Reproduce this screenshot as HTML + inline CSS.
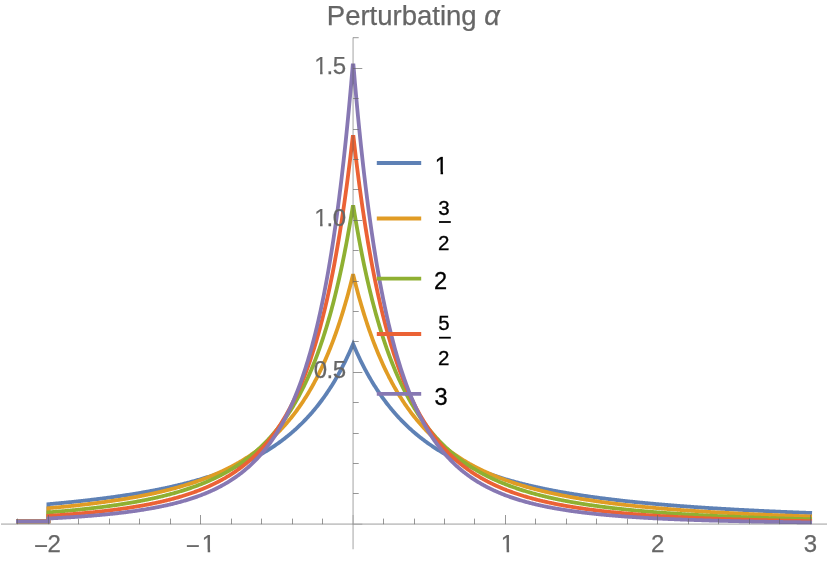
<!DOCTYPE html>
<html><head><meta charset="utf-8"><title>Perturbating alpha</title>
<style>
html,body{margin:0;padding:0;background:#fff;}
body{width:830px;height:563px;overflow:hidden;font-family:"Liberation Sans",sans-serif;}
svg{display:block;font-family:"Liberation Sans",sans-serif;}
</style></head><body>
<svg width="830" height="563" viewBox="0 0 830 563">
<defs>
<clipPath id="c1"><polygon points="203.21,534.22 210.19,534.22 210.19,553.80 207.69,553.80 207.69,549.75 203.21,549.81"/></clipPath>
<clipPath id="c2"><polygon points="502.16,534.22 509.14,534.22 509.14,553.80 506.64,553.80 506.64,549.75 502.16,549.81"/></clipPath>
<clipPath id="c3"><polygon points="315.61,208.22 322.59,208.22 322.59,227.80 320.09,227.80 320.09,223.75 315.61,223.81"/></clipPath>
<clipPath id="c4"><polygon points="315.61,56.22 322.59,56.22 322.59,75.80 320.09,75.80 320.09,71.75 315.61,71.81"/></clipPath>
<clipPath id="c5"><polygon points="436.18,156.51 443.05,156.51 443.05,175.80 440.60,175.80 440.60,171.78 436.18,171.84"/></clipPath>
</defs>
<rect width="830" height="563" fill="#fff"/>
<g>
<path d="M17.93 521.40 L48.40 521.40 L48.40 504.18 L49.16 504.12 L49.93 504.05 L50.69 503.98 L51.45 503.91 L52.22 503.84 L52.98 503.78 L53.75 503.71 L54.51 503.64 L55.27 503.57 L56.04 503.50 L56.80 503.43 L57.56 503.36 L58.33 503.28 L59.09 503.21 L59.85 503.14 L60.62 503.07 L61.38 503.00 L62.15 502.92 L62.91 502.85 L63.67 502.78 L64.44 502.70 L65.20 502.63 L65.96 502.55 L66.73 502.48 L67.49 502.40 L68.26 502.32 L69.02 502.25 L69.78 502.17 L70.55 502.09 L71.31 502.02 L72.07 501.94 L72.84 501.86 L73.60 501.78 L74.36 501.70 L75.13 501.62 L75.89 501.54 L76.66 501.46 L77.42 501.38 L78.18 501.30 L78.95 501.21 L79.71 501.13 L80.47 501.05 L81.24 500.96 L82.00 500.88 L82.76 500.80 L83.53 500.71 L84.29 500.63 L85.06 500.54 L85.82 500.45 L86.58 500.37 L87.35 500.28 L88.11 500.19 L88.87 500.11 L89.64 500.02 L90.40 499.93 L91.16 499.84 L91.93 499.75 L92.69 499.66 L93.46 499.57 L94.22 499.47 L94.98 499.38 L95.75 499.29 L96.51 499.20 L97.27 499.10 L98.04 499.01 L98.80 498.91 L99.57 498.82 L100.33 498.72 L101.09 498.63 L101.86 498.53 L102.62 498.43 L103.38 498.33 L104.15 498.24 L104.91 498.14 L105.67 498.04 L106.44 497.94 L107.20 497.84 L107.97 497.73 L108.73 497.63 L109.49 497.53 L110.26 497.43 L111.02 497.32 L111.78 497.22 L112.55 497.11 L113.31 497.01 L114.07 496.90 L114.84 496.80 L115.60 496.69 L116.37 496.58 L117.13 496.47 L117.89 496.36 L118.66 496.25 L119.42 496.14 L120.18 496.03 L120.95 495.92 L121.71 495.80 L122.47 495.69 L123.24 495.58 L124.00 495.46 L124.77 495.35 L125.53 495.23 L126.29 495.11 L127.06 495.00 L127.82 494.88 L128.58 494.76 L129.35 494.64 L130.11 494.52 L130.88 494.40 L131.64 494.28 L132.40 494.15 L133.17 494.03 L133.93 493.91 L134.69 493.78 L135.46 493.66 L136.22 493.53 L136.98 493.40 L137.75 493.27 L138.51 493.15 L139.28 493.02 L140.04 492.89 L140.80 492.75 L141.57 492.62 L142.33 492.49 L143.09 492.35 L143.86 492.22 L144.62 492.08 L145.38 491.95 L146.15 491.81 L146.91 491.67 L147.68 491.53 L148.44 491.39 L149.20 491.25 L149.97 491.11 L150.73 490.97 L151.49 490.83 L152.26 490.68 L153.02 490.54 L153.78 490.39 L154.55 490.24 L155.31 490.09 L156.08 489.94 L156.84 489.79 L157.60 489.64 L158.37 489.49 L159.13 489.34 L159.89 489.18 L160.66 489.03 L161.42 488.87 L162.19 488.71 L162.95 488.56 L163.71 488.40 L164.48 488.24 L165.24 488.07 L166.00 487.91 L166.77 487.75 L167.53 487.58 L168.29 487.42 L169.06 487.25 L169.82 487.08 L170.59 486.91 L171.35 486.74 L172.11 486.57 L172.88 486.40 L173.64 486.22 L174.40 486.05 L175.17 485.87 L175.93 485.69 L176.69 485.51 L177.46 485.33 L178.22 485.15 L178.99 484.97 L179.75 484.78 L180.51 484.60 L181.28 484.41 L182.04 484.22 L182.80 484.03 L183.57 483.84 L184.33 483.65 L185.09 483.46 L185.86 483.26 L186.62 483.07 L187.39 482.87 L188.15 482.67 L188.91 482.47 L189.68 482.27 L190.44 482.06 L191.20 481.86 L191.97 481.65 L192.73 481.44 L193.50 481.23 L194.26 481.02 L195.02 480.81 L195.79 480.60 L196.55 480.38 L197.31 480.16 L198.08 479.94 L198.84 479.72 L199.60 479.50 L200.37 479.28 L201.13 479.05 L201.90 478.82 L202.66 478.59 L203.42 478.36 L204.19 478.13 L204.95 477.90 L205.71 477.66 L206.48 477.42 L207.24 477.18 L208.00 476.94 L208.77 476.70 L209.53 476.45 L210.30 476.20 L211.06 475.95 L211.82 475.70 L212.59 475.45 L213.35 475.19 L214.11 474.94 L214.88 474.68 L215.64 474.42 L216.41 474.15 L217.17 473.89 L217.93 473.62 L218.70 473.35 L219.46 473.08 L220.22 472.80 L220.99 472.53 L221.75 472.25 L222.51 471.97 L223.28 471.68 L224.04 471.40 L224.81 471.11 L225.57 470.82 L226.33 470.53 L227.10 470.23 L227.86 469.94 L228.62 469.64 L229.39 469.33 L230.15 469.03 L230.91 468.72 L231.68 468.41 L232.44 468.10 L233.21 467.78 L233.97 467.47 L234.73 467.15 L235.50 466.82 L236.26 466.50 L237.02 466.17 L237.79 465.84 L238.55 465.50 L239.31 465.16 L240.08 464.82 L240.84 464.48 L241.61 464.14 L242.37 463.79 L243.13 463.43 L243.90 463.08 L244.66 462.72 L245.42 462.36 L246.19 461.99 L246.95 461.63 L247.72 461.25 L248.48 460.88 L249.24 460.50 L250.01 460.12 L250.77 459.74 L251.53 459.35 L252.30 458.95 L253.06 458.56 L253.82 458.16 L254.59 457.76 L255.35 457.35 L256.12 456.94 L256.88 456.53 L257.64 456.11 L258.41 455.69 L259.17 455.26 L259.93 454.83 L260.70 454.40 L261.46 453.96 L262.22 453.52 L262.99 453.07 L263.75 452.62 L264.52 452.17 L265.28 451.71 L266.04 451.25 L266.81 450.78 L267.57 450.31 L268.33 449.83 L269.10 449.35 L269.86 448.86 L270.62 448.37 L271.39 447.88 L272.15 447.38 L272.92 446.87 L273.68 446.36 L274.44 445.85 L275.21 445.32 L275.97 444.80 L276.73 444.27 L277.50 443.73 L278.26 443.19 L279.03 442.64 L279.79 442.09 L280.55 441.53 L281.32 440.97 L282.08 440.40 L282.84 439.82 L283.61 439.24 L284.37 438.65 L285.13 438.06 L285.90 437.46 L286.66 436.85 L287.43 436.24 L288.19 435.62 L288.95 434.99 L289.72 434.36 L290.48 433.72 L291.24 433.07 L292.01 432.42 L292.77 431.76 L293.53 431.09 L294.30 430.42 L295.06 429.73 L295.83 429.05 L296.59 428.35 L297.35 427.64 L298.12 426.93 L298.88 426.21 L299.64 425.48 L300.41 424.74 L301.17 424.00 L301.93 423.25 L302.70 422.48 L303.46 421.71 L304.23 420.93 L304.99 420.15 L305.75 419.35 L306.52 418.54 L307.28 417.73 L308.04 416.90 L308.81 416.07 L309.57 415.22 L310.34 414.37 L311.10 413.50 L311.86 412.63 L312.63 411.74 L313.39 410.85 L314.15 409.94 L314.92 409.02 L315.68 408.09 L316.44 407.15 L317.21 406.20 L317.97 405.24 L318.74 404.26 L319.50 403.27 L320.26 402.28 L321.03 401.26 L321.79 400.24 L322.55 399.20 L323.32 398.15 L324.08 397.09 L324.84 396.01 L325.61 394.92 L326.37 393.81 L327.14 392.70 L327.90 391.56 L328.66 390.41 L329.43 389.25 L330.19 388.07 L330.95 386.88 L331.72 385.67 L332.48 384.44 L333.24 383.20 L334.01 381.94 L334.77 380.66 L335.54 379.37 L336.30 378.06 L337.06 376.73 L337.83 375.39 L338.59 374.02 L339.35 372.64 L340.12 371.23 L340.88 369.81 L341.65 368.37 L342.41 366.90 L343.17 365.42 L343.94 363.91 L344.70 362.39 L345.46 360.84 L346.23 359.27 L346.99 357.68 L347.75 356.06 L348.52 354.42 L349.28 352.75 L350.05 351.06 L350.81 349.35 L351.57 347.61 L352.34 345.84 L353.10 344.05 L353.86 345.84 L354.63 347.61 L355.39 349.35 L356.15 351.06 L356.92 352.75 L357.68 354.41 L358.44 356.05 L359.20 357.66 L359.97 359.26 L360.73 360.83 L361.49 362.37 L362.26 363.90 L363.02 365.40 L363.78 366.89 L364.55 368.35 L365.31 369.79 L366.07 371.21 L366.83 372.61 L367.60 374.00 L368.36 375.36 L369.12 376.71 L369.89 378.04 L370.65 379.35 L371.41 380.64 L372.18 381.91 L372.94 383.17 L373.70 384.41 L374.46 385.64 L375.23 386.85 L375.99 388.04 L376.75 389.22 L377.52 390.38 L378.28 391.53 L379.04 392.66 L379.81 393.78 L380.57 394.89 L381.33 395.98 L382.09 397.05 L382.86 398.12 L383.62 399.17 L384.38 400.20 L385.15 401.23 L385.91 402.24 L386.67 403.24 L387.44 404.22 L388.20 405.20 L388.96 406.16 L389.73 407.11 L390.49 408.05 L391.25 408.98 L392.01 409.90 L392.78 410.81 L393.54 411.70 L394.30 412.59 L395.07 413.46 L395.83 414.33 L396.59 415.18 L397.36 416.03 L398.12 416.86 L398.88 417.69 L399.64 418.50 L400.41 419.31 L401.17 420.10 L401.93 420.89 L402.70 421.67 L403.46 422.44 L404.22 423.20 L404.99 423.96 L405.75 424.70 L406.51 425.44 L407.27 426.17 L408.04 426.89 L408.80 427.60 L409.56 428.30 L410.33 429.00 L411.09 429.69 L411.85 430.37 L412.62 431.05 L413.38 431.72 L414.14 432.38 L414.90 433.03 L415.67 433.67 L416.43 434.31 L417.19 434.95 L417.96 435.57 L418.72 436.19 L419.48 436.81 L420.25 437.41 L421.01 438.01 L421.77 438.61 L422.53 439.19 L423.30 439.78 L424.06 440.35 L424.82 440.92 L425.59 441.49 L426.35 442.04 L427.11 442.60 L427.88 443.14 L428.64 443.69 L429.40 444.22 L430.17 444.75 L430.93 445.28 L431.69 445.80 L432.45 446.32 L433.22 446.83 L433.98 447.33 L434.74 447.83 L435.51 448.33 L436.27 448.82 L437.03 449.31 L437.80 449.79 L438.56 450.26 L439.32 450.74 L440.08 451.20 L440.85 451.67 L441.61 452.13 L442.37 452.58 L443.14 453.03 L443.90 453.48 L444.66 453.92 L445.43 454.36 L446.19 454.79 L446.95 455.22 L447.71 455.64 L448.48 456.07 L449.24 456.48 L450.00 456.90 L450.77 457.31 L451.53 457.71 L452.29 458.12 L453.06 458.52 L453.82 458.91 L454.58 459.30 L455.34 459.69 L456.11 460.08 L456.87 460.46 L457.63 460.84 L458.40 461.21 L459.16 461.58 L459.92 461.95 L460.69 462.32 L461.45 462.68 L462.21 463.04 L462.98 463.39 L463.74 463.74 L464.50 464.09 L465.26 464.44 L466.03 464.78 L466.79 465.12 L467.55 465.46 L468.32 465.79 L469.08 466.13 L469.84 466.46 L470.61 466.78 L471.37 467.10 L472.13 467.43 L472.89 467.74 L473.66 468.06 L474.42 468.37 L475.18 468.68 L475.95 468.99 L476.71 469.29 L477.47 469.60 L478.24 469.90 L479.00 470.19 L479.76 470.49 L480.52 470.78 L481.29 471.07 L482.05 471.36 L482.81 471.64 L483.58 471.93 L484.34 472.21 L485.10 472.49 L485.87 472.76 L486.63 473.04 L487.39 473.31 L488.15 473.58 L488.92 473.85 L489.68 474.11 L490.44 474.38 L491.21 474.64 L491.97 474.90 L492.73 475.15 L493.50 475.41 L494.26 475.66 L495.02 475.91 L495.79 476.16 L496.55 476.41 L497.31 476.66 L498.07 476.90 L498.84 477.14 L499.60 477.38 L500.36 477.62 L501.13 477.86 L501.89 478.09 L502.65 478.32 L503.42 478.56 L504.18 478.78 L504.94 479.01 L505.70 479.24 L506.47 479.46 L507.23 479.68 L507.99 479.91 L508.76 480.12 L509.52 480.34 L510.28 480.56 L511.05 480.77 L511.81 480.99 L512.57 481.20 L513.33 481.41 L514.10 481.61 L514.86 481.82 L515.62 482.03 L516.39 482.23 L517.15 482.43 L517.91 482.63 L518.68 482.83 L519.44 483.03 L520.20 483.23 L520.96 483.42 L521.73 483.62 L522.49 483.81 L523.25 484.00 L524.02 484.19 L524.78 484.38 L525.54 484.56 L526.31 484.75 L527.07 484.93 L527.83 485.12 L528.59 485.30 L529.36 485.48 L530.12 485.66 L530.88 485.84 L531.65 486.01 L532.41 486.19 L533.17 486.36 L533.94 486.53 L534.70 486.71 L535.46 486.88 L536.23 487.05 L536.99 487.22 L537.75 487.38 L538.51 487.55 L539.28 487.71 L540.04 487.88 L540.80 488.04 L541.57 488.20 L542.33 488.36 L543.09 488.52 L543.86 488.68 L544.62 488.84 L545.38 488.99 L546.14 489.15 L546.91 489.30 L547.67 489.46 L548.43 489.61 L549.20 489.76 L549.96 489.91 L550.72 490.06 L551.49 490.21 L552.25 490.36 L553.01 490.50 L553.77 490.65 L554.54 490.79 L555.30 490.94 L556.06 491.08 L556.83 491.22 L557.59 491.36 L558.35 491.50 L559.12 491.64 L559.88 491.78 L560.64 491.92 L561.40 492.05 L562.17 492.19 L562.93 492.32 L563.69 492.46 L564.46 492.59 L565.22 492.72 L565.98 492.85 L566.75 492.99 L567.51 493.11 L568.27 493.24 L569.04 493.37 L569.80 493.50 L570.56 493.63 L571.32 493.75 L572.09 493.88 L572.85 494.00 L573.61 494.12 L574.38 494.25 L575.14 494.37 L575.90 494.49 L576.67 494.61 L577.43 494.73 L578.19 494.85 L578.95 494.97 L579.72 495.09 L580.48 495.20 L581.24 495.32 L582.01 495.43 L582.77 495.55 L583.53 495.66 L584.30 495.78 L585.06 495.89 L585.82 496.00 L586.58 496.11 L587.35 496.22 L588.11 496.33 L588.87 496.44 L589.64 496.55 L590.40 496.66 L591.16 496.77 L591.93 496.87 L592.69 496.98 L593.45 497.09 L594.21 497.19 L594.98 497.30 L595.74 497.40 L596.50 497.50 L597.27 497.61 L598.03 497.71 L598.79 497.81 L599.56 497.91 L600.32 498.01 L601.08 498.11 L601.85 498.21 L602.61 498.31 L603.37 498.41 L604.13 498.50 L604.90 498.60 L605.66 498.70 L606.42 498.79 L607.19 498.89 L607.95 498.98 L608.71 499.08 L609.48 499.17 L610.24 499.26 L611.00 499.36 L611.76 499.45 L612.53 499.54 L613.29 499.63 L614.05 499.72 L614.82 499.81 L615.58 499.90 L616.34 499.99 L617.11 500.08 L617.87 500.17 L618.63 500.26 L619.39 500.34 L620.16 500.43 L620.92 500.52 L621.68 500.60 L622.45 500.69 L623.21 500.77 L623.97 500.86 L624.74 500.94 L625.50 501.02 L626.26 501.11 L627.02 501.19 L627.79 501.27 L628.55 501.35 L629.31 501.43 L630.08 501.52 L630.84 501.60 L631.60 501.68 L632.37 501.75 L633.13 501.83 L633.89 501.91 L634.66 501.99 L635.42 502.07 L636.18 502.15 L636.94 502.22 L637.71 502.30 L638.47 502.38 L639.23 502.45 L640.00 502.53 L640.76 502.60 L641.52 502.68 L642.29 502.75 L643.05 502.83 L643.81 502.90 L644.57 502.97 L645.34 503.05 L646.10 503.12 L646.86 503.19 L647.63 503.26 L648.39 503.33 L649.15 503.40 L649.92 503.47 L650.68 503.54 L651.44 503.61 L652.20 503.68 L652.97 503.75 L653.73 503.82 L654.49 503.89 L655.26 503.96 L656.02 504.03 L656.78 504.09 L657.55 504.16 L658.31 504.23 L659.07 504.29 L659.83 504.36 L660.60 504.43 L661.36 504.49 L662.12 504.56 L662.89 504.62 L663.65 504.69 L664.41 504.75 L665.18 504.81 L665.94 504.88 L666.70 504.94 L667.46 505.00 L668.23 505.07 L668.99 505.13 L669.75 505.19 L670.52 505.25 L671.28 505.31 L672.04 505.38 L672.81 505.44 L673.57 505.50 L674.33 505.56 L675.10 505.62 L675.86 505.68 L676.62 505.74 L677.38 505.79 L678.15 505.85 L678.91 505.91 L679.67 505.97 L680.44 506.03 L681.20 506.09 L681.96 506.14 L682.73 506.20 L683.49 506.26 L684.25 506.31 L685.01 506.37 L685.78 506.43 L686.54 506.48 L687.30 506.54 L688.07 506.59 L688.83 506.65 L689.59 506.70 L690.36 506.76 L691.12 506.81 L691.88 506.87 L692.64 506.92 L693.41 506.97 L694.17 507.03 L694.93 507.08 L695.70 507.13 L696.46 507.18 L697.22 507.24 L697.99 507.29 L698.75 507.34 L699.51 507.39 L700.27 507.44 L701.04 507.49 L701.80 507.54 L702.56 507.60 L703.33 507.65 L704.09 507.70 L704.85 507.75 L705.62 507.80 L706.38 507.84 L707.14 507.89 L707.91 507.94 L708.67 507.99 L709.43 508.04 L710.19 508.09 L710.96 508.14 L711.72 508.19 L712.48 508.23 L713.25 508.28 L714.01 508.33 L714.77 508.37 L715.54 508.42 L716.30 508.47 L717.06 508.51 L717.82 508.56 L718.59 508.61 L719.35 508.65 L720.11 508.70 L720.88 508.74 L721.64 508.79 L722.40 508.83 L723.17 508.88 L723.93 508.92 L724.69 508.97 L725.45 509.01 L726.22 509.06 L726.98 509.10 L727.74 509.14 L728.51 509.19 L729.27 509.23 L730.03 509.27 L730.80 509.32 L731.56 509.36 L732.32 509.40 L733.08 509.44 L733.85 509.49 L734.61 509.53 L735.37 509.57 L736.14 509.61 L736.90 509.65 L737.66 509.70 L738.43 509.74 L739.19 509.78 L739.95 509.82 L740.72 509.86 L741.48 509.90 L742.24 509.94 L743.00 509.98 L743.77 510.02 L744.53 510.06 L745.29 510.10 L746.06 510.14 L746.82 510.18 L747.58 510.22 L748.35 510.26 L749.11 510.29 L749.87 510.33 L750.63 510.37 L751.40 510.41 L752.16 510.45 L752.92 510.49 L753.69 510.52 L754.45 510.56 L755.21 510.60 L755.98 510.64 L756.74 510.67 L757.50 510.71 L758.26 510.75 L759.03 510.78 L759.79 510.82 L760.55 510.86 L761.32 510.89 L762.08 510.93 L762.84 510.97 L763.61 511.00 L764.37 511.04 L765.13 511.07 L765.89 511.11 L766.66 511.14 L767.42 511.18 L768.18 511.21 L768.95 511.25 L769.71 511.28 L770.47 511.32 L771.24 511.35 L772.00 511.39 L772.76 511.42 L773.52 511.45 L774.29 511.49 L775.05 511.52 L775.81 511.56 L776.58 511.59 L777.34 511.62 L778.10 511.66 L778.87 511.69 L779.63 511.72 L780.39 511.76 L781.16 511.79 L781.92 511.82 L782.68 511.85 L783.44 511.89 L784.21 511.92 L784.97 511.95 L785.73 511.98 L786.50 512.01 L787.26 512.04 L788.02 512.08 L788.79 512.11 L789.55 512.14 L790.31 512.17 L791.07 512.20 L791.84 512.23 L792.60 512.26 L793.36 512.29 L794.13 512.32 L794.89 512.35 L795.65 512.39 L796.42 512.42 L797.18 512.45 L797.94 512.48 L798.70 512.51 L799.47 512.54 L800.23 512.57 L800.99 512.59 L801.76 512.62 L802.52 512.65 L803.28 512.68 L804.05 512.71 L804.81 512.74 L805.57 512.77 L806.33 512.80 L807.10 512.83 L807.86 512.86 L808.62 512.88 L809.39 512.91 L810.15 512.94" fill="none" stroke="#5E81B5" stroke-width="3.8" stroke-linejoin="miter" stroke-linecap="square" stroke-miterlimit="3.25"/>
<path d="M17.93 521.40 L48.40 521.40 L48.40 508.17 L49.16 508.11 L49.93 508.04 L50.69 507.97 L51.45 507.90 L52.21 507.83 L52.98 507.77 L53.74 507.70 L54.50 507.63 L55.27 507.56 L56.03 507.49 L56.79 507.41 L57.55 507.34 L58.32 507.27 L59.08 507.20 L59.84 507.13 L60.61 507.05 L61.37 506.98 L62.13 506.90 L62.89 506.83 L63.66 506.75 L64.42 506.68 L65.18 506.60 L65.95 506.53 L66.71 506.45 L67.47 506.37 L68.23 506.29 L69.00 506.22 L69.76 506.14 L70.52 506.06 L71.29 505.98 L72.05 505.90 L72.81 505.82 L73.57 505.74 L74.34 505.65 L75.10 505.57 L75.86 505.49 L76.63 505.41 L77.39 505.32 L78.15 505.24 L78.91 505.15 L79.68 505.07 L80.44 504.98 L81.20 504.89 L81.96 504.81 L82.73 504.72 L83.49 504.63 L84.25 504.54 L85.02 504.45 L85.78 504.36 L86.54 504.27 L87.30 504.18 L88.07 504.09 L88.83 504.00 L89.59 503.91 L90.36 503.81 L91.12 503.72 L91.88 503.62 L92.64 503.53 L93.41 503.43 L94.17 503.34 L94.93 503.24 L95.70 503.14 L96.46 503.04 L97.22 502.94 L97.98 502.84 L98.75 502.74 L99.51 502.64 L100.27 502.54 L101.04 502.44 L101.80 502.34 L102.56 502.23 L103.32 502.13 L104.09 502.02 L104.85 501.92 L105.61 501.81 L106.38 501.70 L107.14 501.60 L107.90 501.49 L108.66 501.38 L109.43 501.27 L110.19 501.16 L110.95 501.05 L111.72 500.93 L112.48 500.82 L113.24 500.71 L114.00 500.59 L114.77 500.48 L115.53 500.36 L116.29 500.24 L117.06 500.13 L117.82 500.01 L118.58 499.89 L119.34 499.77 L120.11 499.65 L120.87 499.52 L121.63 499.40 L122.40 499.28 L123.16 499.15 L123.92 499.03 L124.68 498.90 L125.45 498.77 L126.21 498.65 L126.97 498.52 L127.74 498.39 L128.50 498.26 L129.26 498.13 L130.02 497.99 L130.79 497.86 L131.55 497.72 L132.31 497.59 L133.08 497.45 L133.84 497.31 L134.60 497.18 L135.36 497.04 L136.13 496.90 L136.89 496.76 L137.65 496.61 L138.41 496.47 L139.18 496.32 L139.94 496.18 L140.70 496.03 L141.47 495.88 L142.23 495.74 L142.99 495.59 L143.75 495.43 L144.52 495.28 L145.28 495.13 L146.04 494.97 L146.81 494.82 L147.57 494.66 L148.33 494.50 L149.09 494.34 L149.86 494.18 L150.62 494.02 L151.38 493.86 L152.15 493.70 L152.91 493.53 L153.67 493.36 L154.43 493.20 L155.20 493.03 L155.96 492.86 L156.72 492.68 L157.49 492.51 L158.25 492.34 L159.01 492.16 L159.77 491.98 L160.54 491.81 L161.30 491.63 L162.06 491.45 L162.83 491.26 L163.59 491.08 L164.35 490.89 L165.11 490.71 L165.88 490.52 L166.64 490.33 L167.40 490.14 L168.17 489.94 L168.93 489.75 L169.69 489.55 L170.45 489.36 L171.22 489.16 L171.98 488.96 L172.74 488.75 L173.51 488.55 L174.27 488.34 L175.03 488.14 L175.79 487.93 L176.56 487.72 L177.32 487.50 L178.08 487.29 L178.85 487.07 L179.61 486.86 L180.37 486.64 L181.13 486.42 L181.90 486.19 L182.66 485.97 L183.42 485.74 L184.19 485.51 L184.95 485.28 L185.71 485.05 L186.47 484.81 L187.24 484.58 L188.00 484.34 L188.76 484.10 L189.53 483.86 L190.29 483.61 L191.05 483.37 L191.81 483.12 L192.58 482.87 L193.34 482.61 L194.10 482.36 L194.86 482.10 L195.63 481.84 L196.39 481.58 L197.15 481.31 L197.92 481.05 L198.68 480.78 L199.44 480.51 L200.20 480.23 L200.97 479.96 L201.73 479.68 L202.49 479.40 L203.26 479.12 L204.02 478.83 L204.78 478.54 L205.54 478.25 L206.31 477.96 L207.07 477.66 L207.83 477.36 L208.60 477.06 L209.36 476.76 L210.12 476.45 L210.88 476.14 L211.65 475.83 L212.41 475.51 L213.17 475.19 L213.94 474.87 L214.70 474.55 L215.46 474.22 L216.22 473.89 L216.99 473.56 L217.75 473.22 L218.51 472.88 L219.28 472.54 L220.04 472.19 L220.80 471.84 L221.56 471.49 L222.33 471.14 L223.09 470.78 L223.85 470.41 L224.62 470.05 L225.38 469.68 L226.14 469.31 L226.90 468.93 L227.67 468.55 L228.43 468.17 L229.19 467.78 L229.96 467.39 L230.72 466.99 L231.48 466.59 L232.24 466.19 L233.01 465.78 L233.77 465.37 L234.53 464.96 L235.30 464.54 L236.06 464.11 L236.82 463.69 L237.58 463.25 L238.35 462.82 L239.11 462.38 L239.87 461.93 L240.64 461.48 L241.40 461.03 L242.16 460.57 L242.92 460.11 L243.69 459.64 L244.45 459.17 L245.21 458.69 L245.98 458.21 L246.74 457.72 L247.50 457.23 L248.26 456.73 L249.03 456.23 L249.79 455.72 L250.55 455.20 L251.31 454.69 L252.08 454.16 L252.84 453.63 L253.60 453.10 L254.37 452.55 L255.13 452.01 L255.89 451.45 L256.65 450.90 L257.42 450.33 L258.18 449.76 L258.94 449.18 L259.71 448.60 L260.47 448.01 L261.23 447.41 L261.99 446.81 L262.76 446.20 L263.52 445.58 L264.28 444.96 L265.05 444.33 L265.81 443.69 L266.57 443.05 L267.33 442.40 L268.10 441.74 L268.86 441.07 L269.62 440.40 L270.39 439.72 L271.15 439.03 L271.91 438.33 L272.67 437.63 L273.44 436.91 L274.20 436.19 L274.96 435.46 L275.73 434.72 L276.49 433.97 L277.25 433.22 L278.01 432.45 L278.78 431.68 L279.54 430.90 L280.30 430.10 L281.07 429.30 L281.83 428.49 L282.59 427.67 L283.35 426.84 L284.12 426.00 L284.88 425.15 L285.64 424.29 L286.41 423.41 L287.17 422.53 L287.93 421.64 L288.69 420.73 L289.46 419.82 L290.22 418.89 L290.98 417.95 L291.75 417.00 L292.51 416.04 L293.27 415.06 L294.03 414.07 L294.80 413.07 L295.56 412.06 L296.32 411.04 L297.09 410.00 L297.85 408.95 L298.61 407.88 L299.37 406.80 L300.14 405.71 L300.90 404.60 L301.66 403.48 L302.43 402.34 L303.19 401.19 L303.95 400.02 L304.71 398.84 L305.48 397.64 L306.24 396.42 L307.00 395.19 L307.76 393.94 L308.53 392.68 L309.29 391.40 L310.05 390.10 L310.82 388.78 L311.58 387.44 L312.34 386.09 L313.10 384.71 L313.87 383.32 L314.63 381.91 L315.39 380.48 L316.16 379.02 L316.92 377.55 L317.68 376.06 L318.44 374.54 L319.21 373.00 L319.97 371.45 L320.73 369.86 L321.50 368.26 L322.26 366.63 L323.02 364.98 L323.78 363.30 L324.55 361.60 L325.31 359.87 L326.07 358.12 L326.84 356.34 L327.60 354.53 L328.36 352.70 L329.12 350.84 L329.89 348.95 L330.65 347.03 L331.41 345.09 L332.18 343.11 L332.94 341.10 L333.70 339.06 L334.46 336.99 L335.23 334.88 L335.99 332.74 L336.75 330.57 L337.52 328.37 L338.28 326.13 L339.04 323.85 L339.80 321.53 L340.57 319.18 L341.33 316.79 L342.09 314.36 L342.86 311.89 L343.62 309.38 L344.38 306.83 L345.14 304.23 L345.91 301.59 L346.67 298.91 L347.43 296.18 L348.20 293.40 L348.96 290.58 L349.72 287.71 L350.48 284.79 L351.25 281.82 L352.01 278.79 L352.77 275.72 L353.43 275.72 L354.19 278.79 L354.95 281.81 L355.71 284.79 L356.48 287.70 L357.24 290.58 L358.00 293.40 L358.76 296.17 L359.53 298.90 L360.29 301.58 L361.05 304.22 L361.81 306.81 L362.58 309.36 L363.34 311.87 L364.10 314.34 L364.86 316.77 L365.63 319.16 L366.39 321.51 L367.15 323.83 L367.91 326.10 L368.68 328.35 L369.44 330.55 L370.20 332.72 L370.96 334.86 L371.73 336.96 L372.49 339.03 L373.25 341.07 L374.01 343.08 L374.78 345.06 L375.54 347.01 L376.30 348.92 L377.06 350.81 L377.83 352.67 L378.59 354.51 L379.35 356.31 L380.11 358.09 L380.88 359.84 L381.64 361.57 L382.40 363.27 L383.16 364.95 L383.93 366.60 L384.69 368.23 L385.45 369.83 L386.21 371.41 L386.98 372.97 L387.74 374.51 L388.50 376.02 L389.26 377.52 L390.03 378.99 L390.79 380.44 L391.55 381.87 L392.31 383.29 L393.08 384.68 L393.84 386.05 L394.60 387.41 L395.36 388.74 L396.13 390.06 L396.89 391.36 L397.65 392.64 L398.41 393.91 L399.18 395.16 L399.94 396.39 L400.70 397.60 L401.46 398.80 L402.23 399.98 L402.99 401.15 L403.75 402.30 L404.51 403.44 L405.28 404.56 L406.04 405.67 L406.80 406.76 L407.56 407.84 L408.33 408.91 L409.09 409.96 L409.85 411.00 L410.61 412.03 L411.38 413.04 L412.14 414.04 L412.90 415.02 L413.66 416.00 L414.43 416.96 L415.19 417.91 L415.95 418.85 L416.71 419.78 L417.48 420.70 L418.24 421.60 L419.00 422.49 L419.76 423.38 L420.53 424.25 L421.29 425.11 L422.05 425.96 L422.81 426.80 L423.58 427.63 L424.34 428.46 L425.10 429.27 L425.86 430.07 L426.63 430.86 L427.39 431.64 L428.15 432.42 L428.91 433.18 L429.68 433.94 L430.44 434.69 L431.20 435.42 L431.96 436.15 L432.72 436.88 L433.49 437.59 L434.25 438.30 L435.01 438.99 L435.77 439.68 L436.54 440.36 L437.30 441.04 L438.06 441.70 L438.82 442.36 L439.59 443.01 L440.35 443.66 L441.11 444.30 L441.87 444.93 L442.64 445.55 L443.40 446.17 L444.16 446.78 L444.92 447.38 L445.69 447.97 L446.45 448.56 L447.21 449.15 L447.97 449.73 L448.74 450.30 L449.50 450.86 L450.26 451.42 L451.02 451.97 L451.79 452.52 L452.55 453.06 L453.31 453.60 L454.07 454.13 L454.84 454.65 L455.60 455.17 L456.36 455.69 L457.12 456.19 L457.89 456.70 L458.65 457.19 L459.41 457.69 L460.17 458.17 L460.94 458.66 L461.70 459.14 L462.46 459.61 L463.22 460.08 L463.99 460.54 L464.75 461.00 L465.51 461.45 L466.27 461.90 L467.04 462.35 L467.80 462.79 L468.56 463.22 L469.32 463.66 L470.09 464.08 L470.85 464.51 L471.61 464.93 L472.37 465.34 L473.14 465.75 L473.90 466.16 L474.66 466.56 L475.42 466.96 L476.19 467.36 L476.95 467.75 L477.71 468.14 L478.47 468.52 L479.24 468.90 L480.00 469.28 L480.76 469.65 L481.52 470.02 L482.29 470.39 L483.05 470.75 L483.81 471.11 L484.57 471.46 L485.34 471.82 L486.10 472.16 L486.86 472.51 L487.62 472.85 L488.39 473.19 L489.15 473.53 L489.91 473.86 L490.67 474.19 L491.44 474.52 L492.20 474.84 L492.96 475.17 L493.72 475.48 L494.49 475.80 L495.25 476.11 L496.01 476.42 L496.77 476.73 L497.54 477.03 L498.30 477.34 L499.06 477.63 L499.82 477.93 L500.59 478.22 L501.35 478.52 L502.11 478.80 L502.87 479.09 L503.64 479.37 L504.40 479.65 L505.16 479.93 L505.92 480.21 L506.69 480.48 L507.45 480.75 L508.21 481.02 L508.97 481.29 L509.73 481.55 L510.50 481.81 L511.26 482.07 L512.02 482.33 L512.78 482.59 L513.55 482.84 L514.31 483.09 L515.07 483.34 L515.83 483.59 L516.60 483.83 L517.36 484.07 L518.12 484.31 L518.88 484.55 L519.65 484.79 L520.41 485.02 L521.17 485.26 L521.93 485.49 L522.70 485.72 L523.46 485.94 L524.22 486.17 L524.98 486.39 L525.75 486.61 L526.51 486.83 L527.27 487.05 L528.03 487.27 L528.80 487.48 L529.56 487.69 L530.32 487.90 L531.08 488.11 L531.85 488.32 L532.61 488.53 L533.37 488.73 L534.13 488.93 L534.90 489.13 L535.66 489.33 L536.42 489.53 L537.18 489.73 L537.95 489.92 L538.71 490.11 L539.47 490.31 L540.23 490.50 L541.00 490.68 L541.76 490.87 L542.52 491.06 L543.28 491.24 L544.05 491.42 L544.81 491.60 L545.57 491.78 L546.33 491.96 L547.10 492.14 L547.86 492.32 L548.62 492.49 L549.38 492.66 L550.15 492.84 L550.91 493.01 L551.67 493.18 L552.43 493.34 L553.20 493.51 L553.96 493.67 L554.72 493.84 L555.48 494.00 L556.25 494.16 L557.01 494.32 L557.77 494.48 L558.53 494.64 L559.30 494.80 L560.06 494.95 L560.82 495.11 L561.58 495.26 L562.35 495.41 L563.11 495.57 L563.87 495.72 L564.63 495.86 L565.40 496.01 L566.16 496.16 L566.92 496.30 L567.68 496.45 L568.45 496.59 L569.21 496.74 L569.97 496.88 L570.73 497.02 L571.50 497.16 L572.26 497.30 L573.02 497.43 L573.78 497.57 L574.55 497.71 L575.31 497.84 L576.07 497.97 L576.83 498.11 L577.60 498.24 L578.36 498.37 L579.12 498.50 L579.88 498.63 L580.65 498.76 L581.41 498.88 L582.17 499.01 L582.93 499.14 L583.69 499.26 L584.46 499.38 L585.22 499.51 L585.98 499.63 L586.74 499.75 L587.51 499.87 L588.27 499.99 L589.03 500.11 L589.79 500.23 L590.56 500.34 L591.32 500.46 L592.08 500.58 L592.84 500.69 L593.61 500.80 L594.37 500.92 L595.13 501.03 L595.89 501.14 L596.66 501.25 L597.42 501.36 L598.18 501.47 L598.94 501.58 L599.71 501.69 L600.47 501.79 L601.23 501.90 L601.99 502.01 L602.76 502.11 L603.52 502.22 L604.28 502.32 L605.04 502.42 L605.81 502.53 L606.57 502.63 L607.33 502.73 L608.09 502.83 L608.86 502.93 L609.62 503.03 L610.38 503.13 L611.14 503.22 L611.91 503.32 L612.67 503.42 L613.43 503.51 L614.19 503.61 L614.96 503.70 L615.72 503.80 L616.48 503.89 L617.24 503.98 L618.01 504.08 L618.77 504.17 L619.53 504.26 L620.29 504.35 L621.06 504.44 L621.82 504.53 L622.58 504.62 L623.34 504.70 L624.11 504.79 L624.87 504.88 L625.63 504.97 L626.39 505.05 L627.16 505.14 L627.92 505.22 L628.68 505.31 L629.44 505.39 L630.21 505.47 L630.97 505.56 L631.73 505.64 L632.49 505.72 L633.26 505.80 L634.02 505.88 L634.78 505.96 L635.54 506.04 L636.31 506.12 L637.07 506.20 L637.83 506.28 L638.59 506.36 L639.36 506.44 L640.12 506.51 L640.88 506.59 L641.64 506.67 L642.41 506.74 L643.17 506.82 L643.93 506.89 L644.69 506.96 L645.46 507.04 L646.22 507.11 L646.98 507.18 L647.74 507.26 L648.51 507.33 L649.27 507.40 L650.03 507.47 L650.79 507.54 L651.56 507.61 L652.32 507.68 L653.08 507.75 L653.84 507.82 L654.61 507.89 L655.37 507.96 L656.13 508.03 L656.89 508.09 L657.66 508.16 L658.42 508.23 L659.18 508.29 L659.94 508.36 L660.70 508.43 L661.47 508.49 L662.23 508.56 L662.99 508.62 L663.75 508.68 L664.52 508.75 L665.28 508.81 L666.04 508.87 L666.80 508.94 L667.57 509.00 L668.33 509.06 L669.09 509.12 L669.85 509.18 L670.62 509.24 L671.38 509.31 L672.14 509.37 L672.90 509.43 L673.67 509.48 L674.43 509.54 L675.19 509.60 L675.95 509.66 L676.72 509.72 L677.48 509.78 L678.24 509.83 L679.00 509.89 L679.77 509.95 L680.53 510.01 L681.29 510.06 L682.05 510.12 L682.82 510.17 L683.58 510.23 L684.34 510.28 L685.10 510.34 L685.87 510.39 L686.63 510.45 L687.39 510.50 L688.15 510.55 L688.92 510.61 L689.68 510.66 L690.44 510.71 L691.20 510.76 L691.97 510.82 L692.73 510.87 L693.49 510.92 L694.25 510.97 L695.02 511.02 L695.78 511.07 L696.54 511.12 L697.30 511.17 L698.07 511.22 L698.83 511.27 L699.59 511.32 L700.35 511.37 L701.12 511.42 L701.88 511.47 L702.64 511.52 L703.40 511.57 L704.17 511.61 L704.93 511.66 L705.69 511.71 L706.45 511.75 L707.22 511.80 L707.98 511.85 L708.74 511.89 L709.50 511.94 L710.27 511.99 L711.03 512.03 L711.79 512.08 L712.55 512.12 L713.32 512.17 L714.08 512.21 L714.84 512.26 L715.60 512.30 L716.37 512.34 L717.13 512.39 L717.89 512.43 L718.65 512.47 L719.42 512.52 L720.18 512.56 L720.94 512.60 L721.70 512.65 L722.47 512.69 L723.23 512.73 L723.99 512.77 L724.75 512.81 L725.52 512.85 L726.28 512.90 L727.04 512.94 L727.80 512.98 L728.57 513.02 L729.33 513.06 L730.09 513.10 L730.85 513.14 L731.62 513.18 L732.38 513.22 L733.14 513.26 L733.90 513.30 L734.66 513.33 L735.43 513.37 L736.19 513.41 L736.95 513.45 L737.71 513.49 L738.48 513.53 L739.24 513.56 L740.00 513.60 L740.76 513.64 L741.53 513.68 L742.29 513.71 L743.05 513.75 L743.81 513.79 L744.58 513.82 L745.34 513.86 L746.10 513.90 L746.86 513.93 L747.63 513.97 L748.39 514.00 L749.15 514.04 L749.91 514.07 L750.68 514.11 L751.44 514.14 L752.20 514.18 L752.96 514.21 L753.73 514.25 L754.49 514.28 L755.25 514.31 L756.01 514.35 L756.78 514.38 L757.54 514.42 L758.30 514.45 L759.06 514.48 L759.83 514.52 L760.59 514.55 L761.35 514.58 L762.11 514.61 L762.88 514.65 L763.64 514.68 L764.40 514.71 L765.16 514.74 L765.93 514.78 L766.69 514.81 L767.45 514.84 L768.21 514.87 L768.98 514.90 L769.74 514.93 L770.50 514.96 L771.26 514.99 L772.03 515.02 L772.79 515.06 L773.55 515.09 L774.31 515.12 L775.08 515.15 L775.84 515.18 L776.60 515.21 L777.36 515.24 L778.13 515.27 L778.89 515.29 L779.65 515.32 L780.41 515.35 L781.18 515.38 L781.94 515.41 L782.70 515.44 L783.46 515.47 L784.23 515.50 L784.99 515.53 L785.75 515.55 L786.51 515.58 L787.28 515.61 L788.04 515.64 L788.80 515.67 L789.56 515.69 L790.33 515.72 L791.09 515.75 L791.85 515.77 L792.61 515.80 L793.38 515.83 L794.14 515.86 L794.90 515.88 L795.66 515.91 L796.43 515.94 L797.19 515.96 L797.95 515.99 L798.71 516.01 L799.48 516.04 L800.24 516.07 L801.00 516.09 L801.76 516.12 L802.53 516.14 L803.29 516.17 L804.05 516.19 L804.81 516.22 L805.58 516.24 L806.34 516.27 L807.10 516.29 L807.86 516.32 L808.63 516.34 L809.39 516.37 L810.15 516.39" fill="none" stroke="#E19C24" stroke-width="3.8" stroke-linejoin="miter" stroke-linecap="square" stroke-miterlimit="3.25"/>
<path d="M17.93 521.40 L48.40 521.40 L48.40 512.36 L49.16 512.30 L49.93 512.24 L50.69 512.18 L51.45 512.12 L52.21 512.06 L52.98 512.00 L53.74 511.94 L54.50 511.88 L55.27 511.81 L56.03 511.75 L56.79 511.69 L57.55 511.62 L58.32 511.56 L59.08 511.49 L59.84 511.43 L60.60 511.36 L61.37 511.30 L62.13 511.23 L62.89 511.16 L63.66 511.09 L64.42 511.03 L65.18 510.96 L65.94 510.89 L66.71 510.82 L67.47 510.75 L68.23 510.68 L69.00 510.61 L69.76 510.54 L70.52 510.46 L71.28 510.39 L72.05 510.32 L72.81 510.24 L73.57 510.17 L74.33 510.10 L75.10 510.02 L75.86 509.94 L76.62 509.87 L77.39 509.79 L78.15 509.71 L78.91 509.64 L79.67 509.56 L80.44 509.48 L81.20 509.40 L81.96 509.32 L82.73 509.24 L83.49 509.16 L84.25 509.08 L85.01 508.99 L85.78 508.91 L86.54 508.83 L87.30 508.74 L88.06 508.66 L88.83 508.57 L89.59 508.49 L90.35 508.40 L91.12 508.31 L91.88 508.22 L92.64 508.13 L93.40 508.05 L94.17 507.96 L94.93 507.86 L95.69 507.77 L96.46 507.68 L97.22 507.59 L97.98 507.49 L98.74 507.40 L99.51 507.31 L100.27 507.21 L101.03 507.11 L101.79 507.02 L102.56 506.92 L103.32 506.82 L104.08 506.72 L104.85 506.62 L105.61 506.52 L106.37 506.42 L107.13 506.32 L107.90 506.21 L108.66 506.11 L109.42 506.00 L110.19 505.90 L110.95 505.79 L111.71 505.69 L112.47 505.58 L113.24 505.47 L114.00 505.36 L114.76 505.25 L115.52 505.14 L116.29 505.02 L117.05 504.91 L117.81 504.80 L118.58 504.68 L119.34 504.57 L120.10 504.45 L120.86 504.33 L121.63 504.21 L122.39 504.09 L123.15 503.97 L123.92 503.85 L124.68 503.73 L125.44 503.61 L126.20 503.48 L126.97 503.36 L127.73 503.23 L128.49 503.10 L129.25 502.97 L130.02 502.84 L130.78 502.71 L131.54 502.58 L132.31 502.45 L133.07 502.31 L133.83 502.18 L134.59 502.04 L135.36 501.90 L136.12 501.77 L136.88 501.63 L137.65 501.49 L138.41 501.34 L139.17 501.20 L139.93 501.06 L140.70 500.91 L141.46 500.76 L142.22 500.62 L142.98 500.47 L143.75 500.32 L144.51 500.17 L145.27 500.01 L146.04 499.86 L146.80 499.70 L147.56 499.55 L148.32 499.39 L149.09 499.23 L149.85 499.07 L150.61 498.90 L151.38 498.74 L152.14 498.57 L152.90 498.41 L153.66 498.24 L154.43 498.07 L155.19 497.90 L155.95 497.73 L156.71 497.55 L157.48 497.38 L158.24 497.20 L159.00 497.02 L159.77 496.84 L160.53 496.66 L161.29 496.48 L162.05 496.29 L162.82 496.10 L163.58 495.91 L164.34 495.72 L165.11 495.53 L165.87 495.34 L166.63 495.14 L167.39 494.95 L168.16 494.75 L168.92 494.55 L169.68 494.34 L170.44 494.14 L171.21 493.93 L171.97 493.73 L172.73 493.52 L173.50 493.30 L174.26 493.09 L175.02 492.87 L175.78 492.66 L176.55 492.44 L177.31 492.21 L178.07 491.99 L178.84 491.76 L179.60 491.54 L180.36 491.30 L181.12 491.07 L181.89 490.84 L182.65 490.60 L183.41 490.36 L184.18 490.12 L184.94 489.88 L185.70 489.63 L186.46 489.38 L187.23 489.13 L187.99 488.88 L188.75 488.62 L189.51 488.36 L190.28 488.10 L191.04 487.84 L191.80 487.57 L192.57 487.30 L193.33 487.03 L194.09 486.76 L194.85 486.48 L195.62 486.20 L196.38 485.92 L197.14 485.64 L197.91 485.35 L198.67 485.06 L199.43 484.76 L200.19 484.47 L200.96 484.17 L201.72 483.87 L202.48 483.56 L203.24 483.25 L204.01 482.94 L204.77 482.63 L205.53 482.31 L206.30 481.99 L207.06 481.66 L207.82 481.33 L208.58 481.00 L209.35 480.67 L210.11 480.33 L210.87 479.99 L211.64 479.64 L212.40 479.29 L213.16 478.94 L213.92 478.58 L214.69 478.23 L215.45 477.86 L216.21 477.49 L216.97 477.12 L217.74 476.75 L218.50 476.37 L219.26 475.98 L220.03 475.60 L220.79 475.20 L221.55 474.81 L222.31 474.41 L223.08 474.00 L223.84 473.59 L224.60 473.18 L225.37 472.76 L226.13 472.34 L226.89 471.91 L227.65 471.48 L228.42 471.04 L229.18 470.60 L229.94 470.16 L230.70 469.71 L231.47 469.25 L232.23 468.79 L232.99 468.32 L233.76 467.85 L234.52 467.37 L235.28 466.89 L236.04 466.40 L236.81 465.91 L237.57 465.41 L238.33 464.90 L239.10 464.39 L239.86 463.88 L240.62 463.35 L241.38 462.82 L242.15 462.29 L242.91 461.75 L243.67 461.20 L244.43 460.65 L245.20 460.09 L245.96 459.52 L246.72 458.94 L247.49 458.36 L248.25 457.78 L249.01 457.18 L249.77 456.58 L250.54 455.97 L251.30 455.36 L252.06 454.73 L252.83 454.10 L253.59 453.46 L254.35 452.82 L255.11 452.16 L255.88 451.50 L256.64 450.83 L257.40 450.15 L258.16 449.46 L258.93 448.77 L259.69 448.06 L260.45 447.35 L261.22 446.62 L261.98 445.89 L262.74 445.15 L263.50 444.40 L264.27 443.64 L265.03 442.87 L265.79 442.10 L266.56 441.31 L267.32 440.51 L268.08 439.70 L268.84 438.88 L269.61 438.05 L270.37 437.21 L271.13 436.35 L271.89 435.49 L272.66 434.61 L273.42 433.73 L274.18 432.83 L274.95 431.92 L275.71 431.00 L276.47 430.06 L277.23 429.12 L278.00 428.16 L278.76 427.18 L279.52 426.20 L280.29 425.20 L281.05 424.19 L281.81 423.16 L282.57 422.12 L283.34 421.06 L284.10 419.99 L284.86 418.91 L285.62 417.81 L286.39 416.69 L287.15 415.56 L287.91 414.41 L288.68 413.25 L289.44 412.07 L290.20 410.88 L290.96 409.66 L291.73 408.43 L292.49 407.18 L293.25 405.92 L294.02 404.63 L294.78 403.33 L295.54 402.01 L296.30 400.66 L297.07 399.30 L297.83 397.92 L298.59 396.52 L299.35 395.10 L300.12 393.65 L300.88 392.19 L301.64 390.70 L302.41 389.19 L303.17 387.66 L303.93 386.10 L304.69 384.52 L305.46 382.91 L306.22 381.29 L306.98 379.63 L307.75 377.95 L308.51 376.25 L309.27 374.51 L310.03 372.75 L310.80 370.97 L311.56 369.15 L312.32 367.31 L313.08 365.43 L313.85 363.53 L314.61 361.59 L315.37 359.63 L316.14 357.63 L316.90 355.60 L317.66 353.54 L318.42 351.44 L319.19 349.31 L319.95 347.14 L320.71 344.94 L321.48 342.70 L322.24 340.43 L323.00 338.11 L323.76 335.76 L324.53 333.36 L325.29 330.93 L326.05 328.45 L326.82 325.94 L327.58 323.37 L328.34 320.77 L329.10 318.12 L329.87 315.42 L330.63 312.68 L331.39 309.88 L332.15 307.04 L332.92 304.15 L333.68 301.20 L334.44 298.20 L335.21 295.15 L335.97 292.05 L336.73 288.88 L337.49 285.66 L338.26 282.38 L339.02 279.04 L339.78 275.64 L340.55 272.18 L341.31 268.65 L342.07 265.05 L342.83 261.39 L343.60 257.65 L344.36 253.85 L345.12 249.97 L345.88 246.02 L346.65 241.99 L347.41 237.89 L348.17 233.70 L348.94 229.43 L349.70 225.08 L350.46 220.64 L351.22 216.12 L351.99 211.50 L352.75 206.79 L353.45 206.79 L354.21 211.50 L354.98 216.11 L355.74 220.64 L356.50 225.07 L357.26 229.42 L358.03 233.69 L358.79 237.87 L359.55 241.98 L360.31 246.00 L361.07 249.95 L361.84 253.83 L362.60 257.63 L363.36 261.36 L364.12 265.03 L364.89 268.62 L365.65 272.15 L366.41 275.62 L367.17 279.02 L367.94 282.36 L368.70 285.63 L369.46 288.85 L370.22 292.02 L370.99 295.12 L371.75 298.17 L372.51 301.17 L373.27 304.11 L374.04 307.00 L374.80 309.85 L375.56 312.64 L376.32 315.38 L377.09 318.08 L377.85 320.73 L378.61 323.34 L379.37 325.90 L380.14 328.42 L380.90 330.89 L381.66 333.32 L382.42 335.72 L383.19 338.07 L383.95 340.39 L384.71 342.66 L385.47 344.90 L386.24 347.10 L387.00 349.27 L387.76 351.40 L388.52 353.50 L389.28 355.56 L390.05 357.59 L390.81 359.58 L391.57 361.55 L392.33 363.48 L393.10 365.39 L393.86 367.26 L394.62 369.11 L395.38 370.92 L396.15 372.71 L396.91 374.47 L397.67 376.20 L398.43 377.91 L399.20 379.59 L399.96 381.24 L400.72 382.87 L401.48 384.47 L402.25 386.05 L403.01 387.61 L403.77 389.14 L404.53 390.65 L405.30 392.14 L406.06 393.61 L406.82 395.05 L407.58 396.47 L408.35 397.88 L409.11 399.26 L409.87 400.62 L410.63 401.96 L411.40 403.28 L412.16 404.59 L412.92 405.87 L413.68 407.14 L414.45 408.39 L415.21 409.62 L415.97 410.83 L416.73 412.03 L417.50 413.21 L418.26 414.37 L419.02 415.52 L419.78 416.65 L420.54 417.76 L421.31 418.86 L422.07 419.95 L422.83 421.02 L423.59 422.07 L424.36 423.12 L425.12 424.14 L425.88 425.16 L426.64 426.15 L427.41 427.14 L428.17 428.11 L428.93 429.07 L429.69 430.02 L430.46 430.96 L431.22 431.88 L431.98 432.79 L432.74 433.69 L433.51 434.57 L434.27 435.45 L435.03 436.31 L435.79 437.16 L436.56 438.01 L437.32 438.84 L438.08 439.66 L438.84 440.47 L439.61 441.27 L440.37 442.05 L441.13 442.83 L441.89 443.60 L442.66 444.36 L443.42 445.11 L444.18 445.85 L444.94 446.59 L445.71 447.31 L446.47 448.02 L447.23 448.73 L447.99 449.42 L448.75 450.11 L449.52 450.79 L450.28 451.46 L451.04 452.12 L451.80 452.78 L452.57 453.42 L453.33 454.06 L454.09 454.69 L454.85 455.32 L455.62 455.93 L456.38 456.54 L457.14 457.15 L457.90 457.74 L458.67 458.33 L459.43 458.91 L460.19 459.48 L460.95 460.05 L461.72 460.61 L462.48 461.16 L463.24 461.71 L464.00 462.25 L464.77 462.79 L465.53 463.32 L466.29 463.84 L467.05 464.36 L467.82 464.87 L468.58 465.37 L469.34 465.87 L470.10 466.37 L470.87 466.86 L471.63 467.34 L472.39 467.82 L473.15 468.29 L473.92 468.75 L474.68 469.22 L475.44 469.67 L476.20 470.12 L476.97 470.57 L477.73 471.01 L478.49 471.45 L479.25 471.88 L480.01 472.31 L480.78 472.73 L481.54 473.15 L482.30 473.56 L483.06 473.97 L483.83 474.38 L484.59 474.78 L485.35 475.17 L486.11 475.57 L486.88 475.95 L487.64 476.34 L488.40 476.72 L489.16 477.09 L489.93 477.46 L490.69 477.83 L491.45 478.20 L492.21 478.56 L492.98 478.91 L493.74 479.26 L494.50 479.61 L495.26 479.96 L496.03 480.30 L496.79 480.64 L497.55 480.97 L498.31 481.31 L499.08 481.63 L499.84 481.96 L500.60 482.28 L501.36 482.60 L502.13 482.91 L502.89 483.22 L503.65 483.53 L504.41 483.84 L505.18 484.14 L505.94 484.44 L506.70 484.74 L507.46 485.03 L508.23 485.32 L508.99 485.61 L509.75 485.89 L510.51 486.18 L511.27 486.46 L512.04 486.73 L512.80 487.01 L513.56 487.28 L514.32 487.55 L515.09 487.81 L515.85 488.08 L516.61 488.34 L517.37 488.60 L518.14 488.85 L518.90 489.10 L519.66 489.36 L520.42 489.60 L521.19 489.85 L521.95 490.09 L522.71 490.34 L523.47 490.58 L524.24 490.81 L525.00 491.05 L525.76 491.28 L526.52 491.51 L527.29 491.74 L528.05 491.97 L528.81 492.19 L529.57 492.41 L530.34 492.63 L531.10 492.85 L531.86 493.07 L532.62 493.28 L533.39 493.49 L534.15 493.70 L534.91 493.91 L535.67 494.12 L536.44 494.32 L537.20 494.53 L537.96 494.73 L538.72 494.92 L539.48 495.12 L540.25 495.32 L541.01 495.51 L541.77 495.70 L542.53 495.89 L543.30 496.08 L544.06 496.27 L544.82 496.45 L545.58 496.64 L546.35 496.82 L547.11 497.00 L547.87 497.18 L548.63 497.36 L549.40 497.53 L550.16 497.71 L550.92 497.88 L551.68 498.05 L552.45 498.22 L553.21 498.39 L553.97 498.56 L554.73 498.72 L555.50 498.88 L556.26 499.05 L557.02 499.21 L557.78 499.37 L558.55 499.53 L559.31 499.68 L560.07 499.84 L560.83 499.99 L561.60 500.15 L562.36 500.30 L563.12 500.45 L563.88 500.60 L564.65 500.75 L565.41 500.89 L566.17 501.04 L566.93 501.18 L567.70 501.33 L568.46 501.47 L569.22 501.61 L569.98 501.75 L570.74 501.89 L571.51 502.02 L572.27 502.16 L573.03 502.30 L573.79 502.43 L574.56 502.56 L575.32 502.69 L576.08 502.83 L576.84 502.96 L577.61 503.08 L578.37 503.21 L579.13 503.34 L579.89 503.46 L580.66 503.59 L581.42 503.71 L582.18 503.83 L582.94 503.96 L583.71 504.08 L584.47 504.20 L585.23 504.32 L585.99 504.43 L586.76 504.55 L587.52 504.67 L588.28 504.78 L589.04 504.90 L589.81 505.01 L590.57 505.12 L591.33 505.23 L592.09 505.34 L592.86 505.45 L593.62 505.56 L594.38 505.67 L595.14 505.78 L595.91 505.88 L596.67 505.99 L597.43 506.09 L598.19 506.20 L598.96 506.30 L599.72 506.40 L600.48 506.51 L601.24 506.61 L602.00 506.71 L602.77 506.81 L603.53 506.90 L604.29 507.00 L605.05 507.10 L605.82 507.20 L606.58 507.29 L607.34 507.39 L608.10 507.48 L608.87 507.57 L609.63 507.67 L610.39 507.76 L611.15 507.85 L611.92 507.94 L612.68 508.03 L613.44 508.12 L614.20 508.21 L614.97 508.30 L615.73 508.39 L616.49 508.47 L617.25 508.56 L618.02 508.64 L618.78 508.73 L619.54 508.81 L620.30 508.90 L621.07 508.98 L621.83 509.06 L622.59 509.14 L623.35 509.23 L624.12 509.31 L624.88 509.39 L625.64 509.47 L626.40 509.55 L627.17 509.62 L627.93 509.70 L628.69 509.78 L629.45 509.86 L630.21 509.93 L630.98 510.01 L631.74 510.08 L632.50 510.16 L633.26 510.23 L634.03 510.31 L634.79 510.38 L635.55 510.45 L636.31 510.52 L637.08 510.59 L637.84 510.67 L638.60 510.74 L639.36 510.81 L640.13 510.88 L640.89 510.95 L641.65 511.01 L642.41 511.08 L643.18 511.15 L643.94 511.22 L644.70 511.28 L645.46 511.35 L646.23 511.42 L646.99 511.48 L647.75 511.55 L648.51 511.61 L649.28 511.67 L650.04 511.74 L650.80 511.80 L651.56 511.86 L652.33 511.93 L653.09 511.99 L653.85 512.05 L654.61 512.11 L655.38 512.17 L656.14 512.23 L656.90 512.29 L657.66 512.35 L658.43 512.41 L659.19 512.47 L659.95 512.53 L660.71 512.59 L661.47 512.64 L662.24 512.70 L663.00 512.76 L663.76 512.81 L664.52 512.87 L665.29 512.93 L666.05 512.98 L666.81 513.04 L667.57 513.09 L668.34 513.15 L669.10 513.20 L669.86 513.25 L670.62 513.31 L671.39 513.36 L672.15 513.41 L672.91 513.46 L673.67 513.52 L674.44 513.57 L675.20 513.62 L675.96 513.67 L676.72 513.72 L677.49 513.77 L678.25 513.82 L679.01 513.87 L679.77 513.92 L680.54 513.97 L681.30 514.02 L682.06 514.06 L682.82 514.11 L683.59 514.16 L684.35 514.21 L685.11 514.25 L685.87 514.30 L686.64 514.35 L687.40 514.39 L688.16 514.44 L688.92 514.49 L689.68 514.53 L690.45 514.58 L691.21 514.62 L691.97 514.67 L692.73 514.71 L693.50 514.75 L694.26 514.80 L695.02 514.84 L695.78 514.88 L696.55 514.93 L697.31 514.97 L698.07 515.01 L698.83 515.05 L699.60 515.10 L700.36 515.14 L701.12 515.18 L701.88 515.22 L702.65 515.26 L703.41 515.30 L704.17 515.34 L704.93 515.38 L705.70 515.42 L706.46 515.46 L707.22 515.50 L707.98 515.54 L708.75 515.58 L709.51 515.62 L710.27 515.66 L711.03 515.69 L711.80 515.73 L712.56 515.77 L713.32 515.81 L714.08 515.85 L714.85 515.88 L715.61 515.92 L716.37 515.96 L717.13 515.99 L717.90 516.03 L718.66 516.06 L719.42 516.10 L720.18 516.14 L720.94 516.17 L721.71 516.21 L722.47 516.24 L723.23 516.28 L723.99 516.31 L724.76 516.35 L725.52 516.38 L726.28 516.41 L727.04 516.45 L727.81 516.48 L728.57 516.51 L729.33 516.55 L730.09 516.58 L730.86 516.61 L731.62 516.65 L732.38 516.68 L733.14 516.71 L733.91 516.74 L734.67 516.77 L735.43 516.81 L736.19 516.84 L736.96 516.87 L737.72 516.90 L738.48 516.93 L739.24 516.96 L740.01 516.99 L740.77 517.02 L741.53 517.05 L742.29 517.08 L743.06 517.11 L743.82 517.14 L744.58 517.17 L745.34 517.20 L746.11 517.23 L746.87 517.26 L747.63 517.29 L748.39 517.32 L749.16 517.35 L749.92 517.38 L750.68 517.40 L751.44 517.43 L752.20 517.46 L752.97 517.49 L753.73 517.52 L754.49 517.54 L755.25 517.57 L756.02 517.60 L756.78 517.63 L757.54 517.65 L758.30 517.68 L759.07 517.71 L759.83 517.73 L760.59 517.76 L761.35 517.79 L762.12 517.81 L762.88 517.84 L763.64 517.86 L764.40 517.89 L765.17 517.91 L765.93 517.94 L766.69 517.97 L767.45 517.99 L768.22 518.02 L768.98 518.04 L769.74 518.06 L770.50 518.09 L771.27 518.11 L772.03 518.14 L772.79 518.16 L773.55 518.19 L774.32 518.21 L775.08 518.23 L775.84 518.26 L776.60 518.28 L777.37 518.31 L778.13 518.33 L778.89 518.35 L779.65 518.37 L780.41 518.40 L781.18 518.42 L781.94 518.44 L782.70 518.47 L783.46 518.49 L784.23 518.51 L784.99 518.53 L785.75 518.55 L786.51 518.58 L787.28 518.60 L788.04 518.62 L788.80 518.64 L789.56 518.66 L790.33 518.69 L791.09 518.71 L791.85 518.73 L792.61 518.75 L793.38 518.77 L794.14 518.79 L794.90 518.81 L795.66 518.83 L796.43 518.85 L797.19 518.87 L797.95 518.89 L798.71 518.91 L799.48 518.93 L800.24 518.95 L801.00 518.97 L801.76 518.99 L802.53 519.01 L803.29 519.03 L804.05 519.05 L804.81 519.07 L805.58 519.09 L806.34 519.11 L807.10 519.13 L807.86 519.15 L808.63 519.17 L809.39 519.19 L810.15 519.21" fill="none" stroke="#8FB032" stroke-width="3.8" stroke-linejoin="miter" stroke-linecap="square" stroke-miterlimit="3.25"/>
<path d="M17.93 521.40 L48.40 521.40 L48.40 515.85 L49.16 515.80 L49.93 515.75 L50.69 515.70 L51.45 515.65 L52.21 515.60 L52.98 515.55 L53.74 515.50 L54.50 515.44 L55.26 515.39 L56.03 515.34 L56.79 515.29 L57.55 515.23 L58.32 515.18 L59.08 515.13 L59.84 515.07 L60.60 515.02 L61.37 514.96 L62.13 514.91 L62.89 514.85 L63.65 514.79 L64.42 514.74 L65.18 514.68 L65.94 514.62 L66.71 514.56 L67.47 514.50 L68.23 514.44 L68.99 514.38 L69.76 514.32 L70.52 514.26 L71.28 514.20 L72.05 514.14 L72.81 514.08 L73.57 514.01 L74.33 513.95 L75.10 513.89 L75.86 513.82 L76.62 513.76 L77.38 513.69 L78.15 513.63 L78.91 513.56 L79.67 513.49 L80.44 513.43 L81.20 513.36 L81.96 513.29 L82.72 513.22 L83.49 513.15 L84.25 513.08 L85.01 513.01 L85.77 512.94 L86.54 512.87 L87.30 512.80 L88.06 512.72 L88.83 512.65 L89.59 512.57 L90.35 512.50 L91.11 512.42 L91.88 512.35 L92.64 512.27 L93.40 512.19 L94.16 512.11 L94.93 512.04 L95.69 511.96 L96.45 511.88 L97.22 511.80 L97.98 511.71 L98.74 511.63 L99.50 511.55 L100.27 511.47 L101.03 511.38 L101.79 511.30 L102.55 511.21 L103.32 511.12 L104.08 511.04 L104.84 510.95 L105.61 510.86 L106.37 510.77 L107.13 510.68 L107.89 510.59 L108.66 510.50 L109.42 510.41 L110.18 510.31 L110.94 510.22 L111.71 510.12 L112.47 510.03 L113.23 509.93 L114.00 509.83 L114.76 509.73 L115.52 509.64 L116.28 509.54 L117.05 509.43 L117.81 509.33 L118.57 509.23 L119.34 509.13 L120.10 509.02 L120.86 508.92 L121.62 508.81 L122.39 508.70 L123.15 508.59 L123.91 508.48 L124.67 508.37 L125.44 508.26 L126.20 508.15 L126.96 508.04 L127.73 507.92 L128.49 507.81 L129.25 507.69 L130.01 507.57 L130.78 507.45 L131.54 507.33 L132.30 507.21 L133.06 507.09 L133.83 506.97 L134.59 506.84 L135.35 506.72 L136.12 506.59 L136.88 506.46 L137.64 506.33 L138.40 506.20 L139.17 506.07 L139.93 505.94 L140.69 505.80 L141.45 505.67 L142.22 505.53 L142.98 505.39 L143.74 505.25 L144.51 505.11 L145.27 504.97 L146.03 504.83 L146.79 504.68 L147.56 504.54 L148.32 504.39 L149.08 504.24 L149.84 504.09 L150.61 503.94 L151.37 503.79 L152.13 503.63 L152.90 503.48 L153.66 503.32 L154.42 503.16 L155.18 503.00 L155.95 502.84 L156.71 502.67 L157.47 502.51 L158.23 502.34 L159.00 502.17 L159.76 502.00 L160.52 501.83 L161.29 501.65 L162.05 501.48 L162.81 501.30 L163.57 501.12 L164.34 500.94 L165.10 500.76 L165.86 500.57 L166.63 500.39 L167.39 500.20 L168.15 500.01 L168.91 499.81 L169.68 499.62 L170.44 499.42 L171.20 499.22 L171.96 499.02 L172.73 498.82 L173.49 498.62 L174.25 498.41 L175.02 498.20 L175.78 497.99 L176.54 497.78 L177.30 497.56 L178.07 497.34 L178.83 497.12 L179.59 496.90 L180.35 496.68 L181.12 496.45 L181.88 496.22 L182.64 495.99 L183.41 495.75 L184.17 495.52 L184.93 495.28 L185.69 495.03 L186.46 494.79 L187.22 494.54 L187.98 494.29 L188.74 494.04 L189.51 493.78 L190.27 493.52 L191.03 493.26 L191.80 493.00 L192.56 492.73 L193.32 492.46 L194.08 492.19 L194.85 491.91 L195.61 491.63 L196.37 491.35 L197.13 491.07 L197.90 490.78 L198.66 490.49 L199.42 490.19 L200.19 489.89 L200.95 489.59 L201.71 489.29 L202.47 488.98 L203.24 488.67 L204.00 488.35 L204.76 488.03 L205.53 487.71 L206.29 487.38 L207.05 487.05 L207.81 486.72 L208.58 486.38 L209.34 486.04 L210.10 485.69 L210.86 485.34 L211.63 484.99 L212.39 484.63 L213.15 484.26 L213.92 483.90 L214.68 483.53 L215.44 483.15 L216.20 482.77 L216.97 482.39 L217.73 482.00 L218.49 481.60 L219.25 481.20 L220.02 480.80 L220.78 480.39 L221.54 479.98 L222.31 479.56 L223.07 479.14 L223.83 478.71 L224.59 478.27 L225.36 477.84 L226.12 477.39 L226.88 476.94 L227.64 476.48 L228.41 476.02 L229.17 475.56 L229.93 475.08 L230.70 474.60 L231.46 474.12 L232.22 473.63 L232.98 473.13 L233.75 472.63 L234.51 472.12 L235.27 471.60 L236.03 471.08 L236.80 470.55 L237.56 470.01 L238.32 469.47 L239.09 468.92 L239.85 468.36 L240.61 467.80 L241.37 467.22 L242.14 466.64 L242.90 466.06 L243.66 465.46 L244.42 464.86 L245.19 464.25 L245.95 463.63 L246.71 463.00 L247.48 462.36 L248.24 461.72 L249.00 461.07 L249.76 460.41 L250.53 459.74 L251.29 459.06 L252.05 458.37 L252.82 457.67 L253.58 456.96 L254.34 456.24 L255.10 455.52 L255.87 454.78 L256.63 454.03 L257.39 453.27 L258.15 452.50 L258.92 451.72 L259.68 450.93 L260.44 450.13 L261.21 449.32 L261.97 448.50 L262.73 447.66 L263.49 446.81 L264.26 445.95 L265.02 445.08 L265.78 444.20 L266.54 443.30 L267.31 442.39 L268.07 441.46 L268.83 440.53 L269.60 439.58 L270.36 438.61 L271.12 437.63 L271.88 436.64 L272.65 435.63 L273.41 434.61 L274.17 433.57 L274.93 432.51 L275.70 431.44 L276.46 430.36 L277.22 429.26 L277.99 428.14 L278.75 427.00 L279.51 425.85 L280.27 424.68 L281.04 423.49 L281.80 422.28 L282.56 421.06 L283.32 419.81 L284.09 418.55 L284.85 417.26 L285.61 415.96 L286.38 414.63 L287.14 413.29 L287.90 411.92 L288.66 410.53 L289.43 409.12 L290.19 407.69 L290.95 406.23 L291.71 404.75 L292.48 403.25 L293.24 401.72 L294.00 400.16 L294.77 398.59 L295.53 396.98 L296.29 395.35 L297.05 393.69 L297.82 392.01 L298.58 390.29 L299.34 388.55 L300.11 386.78 L300.87 384.98 L301.63 383.14 L302.39 381.28 L303.16 379.39 L303.92 377.46 L304.68 375.50 L305.44 373.50 L306.21 371.47 L306.97 369.41 L307.73 367.31 L308.50 365.17 L309.26 363.00 L310.02 360.79 L310.78 358.53 L311.55 356.24 L312.31 353.91 L313.07 351.53 L313.83 349.12 L314.60 346.66 L315.36 344.15 L316.12 341.60 L316.89 339.00 L317.65 336.35 L318.41 333.66 L319.17 330.91 L319.94 328.12 L320.70 325.27 L321.46 322.37 L322.22 319.41 L322.99 316.40 L323.75 313.33 L324.51 310.20 L325.28 307.02 L326.04 303.77 L326.80 300.46 L327.56 297.08 L328.33 293.64 L329.09 290.13 L329.85 286.55 L330.61 282.90 L331.38 279.18 L332.14 275.39 L332.90 271.52 L333.67 267.57 L334.43 263.54 L335.19 259.43 L335.95 255.24 L336.72 250.96 L337.48 246.59 L338.24 242.13 L339.00 237.58 L339.77 232.94 L340.53 228.19 L341.29 223.35 L342.06 218.41 L342.82 213.36 L343.58 208.20 L344.34 202.94 L345.11 197.56 L345.87 192.06 L346.63 186.44 L347.40 180.70 L348.16 174.84 L348.92 168.84 L349.68 162.71 L350.45 156.45 L351.21 150.05 L351.97 143.50 L352.73 136.80 L353.47 136.80 L354.23 143.49 L354.99 150.04 L355.75 156.44 L356.52 162.70 L357.28 168.83 L358.04 174.82 L358.80 180.68 L359.56 186.42 L360.33 192.04 L361.09 197.53 L361.85 202.91 L362.61 208.18 L363.38 213.33 L364.14 218.38 L364.90 223.32 L365.66 228.16 L366.43 232.90 L367.19 237.55 L367.95 242.09 L368.71 246.55 L369.48 250.92 L370.24 255.20 L371.00 259.39 L371.76 263.50 L372.53 267.53 L373.29 271.47 L374.05 275.34 L374.81 279.14 L375.58 282.86 L376.34 286.51 L377.10 290.08 L377.86 293.59 L378.63 297.03 L379.39 300.41 L380.15 303.72 L380.91 306.97 L381.67 310.15 L382.44 313.28 L383.20 316.35 L383.96 319.36 L384.72 322.32 L385.49 325.22 L386.25 328.07 L387.01 330.86 L387.77 333.61 L388.54 336.30 L389.30 338.95 L390.06 341.54 L390.82 344.10 L391.59 346.60 L392.35 349.06 L393.11 351.48 L393.87 353.86 L394.64 356.19 L395.40 358.48 L396.16 360.73 L396.92 362.94 L397.69 365.12 L398.45 367.26 L399.21 369.36 L399.97 371.42 L400.74 373.45 L401.50 375.44 L402.26 377.40 L403.02 379.33 L403.78 381.23 L404.55 383.09 L405.31 384.92 L406.07 386.72 L406.83 388.50 L407.60 390.24 L408.36 391.95 L409.12 393.64 L409.88 395.30 L410.65 396.93 L411.41 398.53 L412.17 400.11 L412.93 401.67 L413.70 403.19 L414.46 404.70 L415.22 406.18 L415.98 407.64 L416.75 409.07 L417.51 410.48 L418.27 411.87 L419.03 413.24 L419.80 414.58 L420.56 415.91 L421.32 417.21 L422.08 418.50 L422.85 419.76 L423.61 421.01 L424.37 422.23 L425.13 423.44 L425.89 424.63 L426.66 425.80 L427.42 426.95 L428.18 428.09 L428.94 429.21 L429.71 430.31 L430.47 431.40 L431.23 432.47 L431.99 433.52 L432.76 434.56 L433.52 435.58 L434.28 436.59 L435.04 437.59 L435.81 438.56 L436.57 439.53 L437.33 440.48 L438.09 441.42 L438.86 442.34 L439.62 443.25 L440.38 444.15 L441.14 445.04 L441.91 445.91 L442.67 446.77 L443.43 447.62 L444.19 448.45 L444.95 449.28 L445.72 450.09 L446.48 450.89 L447.24 451.68 L448.00 452.46 L448.77 453.23 L449.53 453.99 L450.29 454.74 L451.05 455.48 L451.82 456.20 L452.58 456.92 L453.34 457.63 L454.10 458.33 L454.87 459.02 L455.63 459.70 L456.39 460.37 L457.15 461.03 L457.92 461.68 L458.68 462.33 L459.44 462.96 L460.20 463.59 L460.97 464.21 L461.73 464.82 L462.49 465.42 L463.25 466.02 L464.02 466.61 L464.78 467.19 L465.54 467.76 L466.30 468.32 L467.06 468.88 L467.83 469.43 L468.59 469.98 L469.35 470.51 L470.11 471.04 L470.88 471.57 L471.64 472.08 L472.40 472.59 L473.16 473.10 L473.93 473.59 L474.69 474.09 L475.45 474.57 L476.21 475.05 L476.98 475.52 L477.74 475.99 L478.50 476.45 L479.26 476.91 L480.03 477.36 L480.79 477.80 L481.55 478.24 L482.31 478.68 L483.08 479.11 L483.84 479.53 L484.60 479.95 L485.36 480.36 L486.13 480.77 L486.89 481.17 L487.65 481.57 L488.41 481.97 L489.17 482.36 L489.94 482.74 L490.70 483.12 L491.46 483.50 L492.22 483.87 L492.99 484.24 L493.75 484.60 L494.51 484.96 L495.27 485.31 L496.04 485.66 L496.80 486.01 L497.56 486.35 L498.32 486.69 L499.09 487.02 L499.85 487.35 L500.61 487.68 L501.37 488.00 L502.14 488.32 L502.90 488.64 L503.66 488.95 L504.42 489.26 L505.19 489.56 L505.95 489.87 L506.71 490.17 L507.47 490.46 L508.24 490.75 L509.00 491.04 L509.76 491.33 L510.52 491.61 L511.28 491.89 L512.05 492.16 L512.81 492.44 L513.57 492.71 L514.33 492.97 L515.10 493.24 L515.86 493.50 L516.62 493.76 L517.38 494.01 L518.15 494.27 L518.91 494.52 L519.67 494.77 L520.43 495.01 L521.20 495.25 L521.96 495.49 L522.72 495.73 L523.48 495.96 L524.25 496.20 L525.01 496.43 L525.77 496.65 L526.53 496.88 L527.30 497.10 L528.06 497.32 L528.82 497.54 L529.58 497.76 L530.35 497.97 L531.11 498.18 L531.87 498.39 L532.63 498.60 L533.39 498.80 L534.16 499.00 L534.92 499.20 L535.68 499.40 L536.44 499.60 L537.21 499.79 L537.97 499.99 L538.73 500.18 L539.49 500.37 L540.26 500.55 L541.02 500.74 L541.78 500.92 L542.54 501.10 L543.31 501.28 L544.07 501.46 L544.83 501.63 L545.59 501.81 L546.36 501.98 L547.12 502.15 L547.88 502.32 L548.64 502.49 L549.41 502.65 L550.17 502.82 L550.93 502.98 L551.69 503.14 L552.45 503.30 L553.22 503.46 L553.98 503.62 L554.74 503.77 L555.50 503.92 L556.27 504.07 L557.03 504.23 L557.79 504.37 L558.55 504.52 L559.32 504.67 L560.08 504.81 L560.84 504.96 L561.60 505.10 L562.37 505.24 L563.13 505.38 L563.89 505.52 L564.65 505.65 L565.42 505.79 L566.18 505.92 L566.94 506.05 L567.70 506.19 L568.47 506.32 L569.23 506.45 L569.99 506.57 L570.75 506.70 L571.52 506.83 L572.28 506.95 L573.04 507.07 L573.80 507.20 L574.56 507.32 L575.33 507.44 L576.09 507.56 L576.85 507.67 L577.61 507.79 L578.38 507.91 L579.14 508.02 L579.90 508.13 L580.66 508.25 L581.43 508.36 L582.19 508.47 L582.95 508.58 L583.71 508.69 L584.48 508.79 L585.24 508.90 L586.00 509.01 L586.76 509.11 L587.53 509.22 L588.29 509.32 L589.05 509.42 L589.81 509.52 L590.58 509.62 L591.34 509.72 L592.10 509.82 L592.86 509.92 L593.63 510.01 L594.39 510.11 L595.15 510.21 L595.91 510.30 L596.67 510.39 L597.44 510.49 L598.20 510.58 L598.96 510.67 L599.72 510.76 L600.49 510.85 L601.25 510.94 L602.01 511.02 L602.77 511.11 L603.54 511.20 L604.30 511.28 L605.06 511.37 L605.82 511.45 L606.59 511.54 L607.35 511.62 L608.11 511.70 L608.87 511.78 L609.64 511.86 L610.40 511.95 L611.16 512.02 L611.92 512.10 L612.69 512.18 L613.45 512.26 L614.21 512.34 L614.97 512.41 L615.74 512.49 L616.50 512.56 L617.26 512.64 L618.02 512.71 L618.78 512.78 L619.55 512.86 L620.31 512.93 L621.07 513.00 L621.83 513.07 L622.60 513.14 L623.36 513.21 L624.12 513.28 L624.88 513.35 L625.65 513.42 L626.41 513.48 L627.17 513.55 L627.93 513.62 L628.70 513.68 L629.46 513.75 L630.22 513.81 L630.98 513.88 L631.75 513.94 L632.51 514.00 L633.27 514.07 L634.03 514.13 L634.80 514.19 L635.56 514.25 L636.32 514.31 L637.08 514.37 L637.85 514.43 L638.61 514.49 L639.37 514.55 L640.13 514.61 L640.89 514.67 L641.66 514.73 L642.42 514.78 L643.18 514.84 L643.94 514.90 L644.71 514.95 L645.47 515.01 L646.23 515.06 L646.99 515.12 L647.76 515.17 L648.52 515.22 L649.28 515.28 L650.04 515.33 L650.81 515.38 L651.57 515.44 L652.33 515.49 L653.09 515.54 L653.86 515.59 L654.62 515.64 L655.38 515.69 L656.14 515.74 L656.91 515.79 L657.67 515.84 L658.43 515.89 L659.19 515.93 L659.95 515.98 L660.72 516.03 L661.48 516.08 L662.24 516.12 L663.00 516.17 L663.77 516.22 L664.53 516.26 L665.29 516.31 L666.05 516.35 L666.82 516.40 L667.58 516.44 L668.34 516.49 L669.10 516.53 L669.87 516.57 L670.63 516.62 L671.39 516.66 L672.15 516.70 L672.92 516.75 L673.68 516.79 L674.44 516.83 L675.20 516.87 L675.97 516.91 L676.73 516.95 L677.49 516.99 L678.25 517.03 L679.02 517.07 L679.78 517.11 L680.54 517.15 L681.30 517.19 L682.06 517.23 L682.83 517.27 L683.59 517.31 L684.35 517.34 L685.11 517.38 L685.88 517.42 L686.64 517.46 L687.40 517.49 L688.16 517.53 L688.93 517.57 L689.69 517.60 L690.45 517.64 L691.21 517.67 L691.98 517.71 L692.74 517.74 L693.50 517.78 L694.26 517.81 L695.03 517.85 L695.79 517.88 L696.55 517.92 L697.31 517.95 L698.08 517.98 L698.84 518.02 L699.60 518.05 L700.36 518.08 L701.13 518.12 L701.89 518.15 L702.65 518.18 L703.41 518.21 L704.17 518.24 L704.94 518.28 L705.70 518.31 L706.46 518.34 L707.22 518.37 L707.99 518.40 L708.75 518.43 L709.51 518.46 L710.27 518.49 L711.04 518.52 L711.80 518.55 L712.56 518.58 L713.32 518.61 L714.09 518.64 L714.85 518.67 L715.61 518.69 L716.37 518.72 L717.14 518.75 L717.90 518.78 L718.66 518.81 L719.42 518.83 L720.19 518.86 L720.95 518.89 L721.71 518.92 L722.47 518.94 L723.24 518.97 L724.00 519.00 L724.76 519.02 L725.52 519.05 L726.28 519.08 L727.05 519.10 L727.81 519.13 L728.57 519.15 L729.33 519.18 L730.10 519.20 L730.86 519.23 L731.62 519.25 L732.38 519.28 L733.15 519.30 L733.91 519.33 L734.67 519.35 L735.43 519.38 L736.20 519.40 L736.96 519.42 L737.72 519.45 L738.48 519.47 L739.25 519.49 L740.01 519.52 L740.77 519.54 L741.53 519.56 L742.30 519.59 L743.06 519.61 L743.82 519.63 L744.58 519.65 L745.35 519.68 L746.11 519.70 L746.87 519.72 L747.63 519.74 L748.39 519.76 L749.16 519.79 L749.92 519.81 L750.68 519.83 L751.44 519.85 L752.21 519.87 L752.97 519.89 L753.73 519.91 L754.49 519.93 L755.26 519.95 L756.02 519.97 L756.78 519.99 L757.54 520.01 L758.31 520.03 L759.07 520.05 L759.83 520.07 L760.59 520.09 L761.36 520.11 L762.12 520.13 L762.88 520.15 L763.64 520.17 L764.41 520.19 L765.17 520.21 L765.93 520.23 L766.69 520.25 L767.45 520.26 L768.22 520.28 L768.98 520.30 L769.74 520.32 L770.50 520.34 L771.27 520.36 L772.03 520.37 L772.79 520.39 L773.55 520.41 L774.32 520.43 L775.08 520.44 L775.84 520.46 L776.60 520.48 L777.37 520.50 L778.13 520.51 L778.89 520.53 L779.65 520.55 L780.42 520.56 L781.18 520.58 L781.94 520.60 L782.70 520.61 L783.47 520.63 L784.23 520.65 L784.99 520.66 L785.75 520.68 L786.52 520.69 L787.28 520.71 L788.04 520.73 L788.80 520.74 L789.56 520.76 L790.33 520.77 L791.09 520.79 L791.85 520.80 L792.61 520.82 L793.38 520.83 L794.14 520.85 L794.90 520.86 L795.66 520.88 L796.43 520.89 L797.19 520.91 L797.95 520.92 L798.71 520.94 L799.48 520.95 L800.24 520.97 L801.00 520.98 L801.76 521.00 L802.53 521.01 L803.29 521.02 L804.05 521.04 L804.81 521.05 L805.58 521.07 L806.34 521.08 L807.10 521.09 L807.86 521.11 L808.63 521.12 L809.39 521.13 L810.15 521.15" fill="none" stroke="#EB6235" stroke-width="3.8" stroke-linejoin="miter" stroke-linecap="square" stroke-miterlimit="3.25"/>
<path d="M17.93 521.40 L48.40 521.40 L48.40 518.48 L49.16 518.44 L49.93 518.41 L50.69 518.37 L51.45 518.33 L52.21 518.29 L52.98 518.25 L53.74 518.21 L54.50 518.17 L55.26 518.13 L56.03 518.09 L56.79 518.04 L57.55 518.00 L58.32 517.96 L59.08 517.92 L59.84 517.87 L60.60 517.83 L61.37 517.79 L62.13 517.74 L62.89 517.70 L63.66 517.65 L64.42 517.61 L65.18 517.56 L65.94 517.51 L66.71 517.47 L67.47 517.42 L68.23 517.37 L68.99 517.33 L69.76 517.28 L70.52 517.23 L71.28 517.18 L72.05 517.13 L72.81 517.08 L73.57 517.03 L74.33 516.98 L75.10 516.93 L75.86 516.88 L76.62 516.82 L77.38 516.77 L78.15 516.72 L78.91 516.66 L79.67 516.61 L80.44 516.55 L81.20 516.50 L81.96 516.44 L82.72 516.39 L83.49 516.33 L84.25 516.27 L85.01 516.22 L85.78 516.16 L86.54 516.10 L87.30 516.04 L88.06 515.98 L88.83 515.92 L89.59 515.86 L90.35 515.80 L91.11 515.74 L91.88 515.67 L92.64 515.61 L93.40 515.55 L94.17 515.48 L94.93 515.42 L95.69 515.35 L96.45 515.28 L97.22 515.22 L97.98 515.15 L98.74 515.08 L99.50 515.01 L100.27 514.94 L101.03 514.87 L101.79 514.80 L102.56 514.73 L103.32 514.66 L104.08 514.59 L104.84 514.51 L105.61 514.44 L106.37 514.37 L107.13 514.29 L107.90 514.21 L108.66 514.14 L109.42 514.06 L110.18 513.98 L110.95 513.90 L111.71 513.82 L112.47 513.74 L113.23 513.66 L114.00 513.58 L114.76 513.49 L115.52 513.41 L116.29 513.32 L117.05 513.24 L117.81 513.15 L118.57 513.06 L119.34 512.98 L120.10 512.89 L120.86 512.80 L121.62 512.71 L122.39 512.61 L123.15 512.52 L123.91 512.43 L124.68 512.33 L125.44 512.24 L126.20 512.14 L126.96 512.04 L127.73 511.94 L128.49 511.85 L129.25 511.74 L130.02 511.64 L130.78 511.54 L131.54 511.44 L132.30 511.33 L133.07 511.23 L133.83 511.12 L134.59 511.01 L135.35 510.90 L136.12 510.79 L136.88 510.68 L137.64 510.57 L138.41 510.46 L139.17 510.34 L139.93 510.22 L140.69 510.11 L141.46 509.99 L142.22 509.87 L142.98 509.75 L143.74 509.63 L144.51 509.50 L145.27 509.38 L146.03 509.25 L146.80 509.12 L147.56 508.99 L148.32 508.86 L149.08 508.73 L149.85 508.60 L150.61 508.46 L151.37 508.33 L152.14 508.19 L152.90 508.05 L153.66 507.91 L154.42 507.77 L155.19 507.63 L155.95 507.48 L156.71 507.33 L157.47 507.19 L158.24 507.04 L159.00 506.88 L159.76 506.73 L160.53 506.58 L161.29 506.42 L162.05 506.26 L162.81 506.10 L163.58 505.94 L164.34 505.77 L165.10 505.61 L165.86 505.44 L166.63 505.27 L167.39 505.10 L168.15 504.93 L168.92 504.75 L169.68 504.57 L170.44 504.39 L171.20 504.21 L171.97 504.03 L172.73 503.84 L173.49 503.66 L174.26 503.47 L175.02 503.27 L175.78 503.08 L176.54 502.88 L177.31 502.68 L178.07 502.48 L178.83 502.28 L179.59 502.07 L180.36 501.87 L181.12 501.65 L181.88 501.44 L182.65 501.23 L183.41 501.01 L184.17 500.79 L184.93 500.56 L185.70 500.34 L186.46 500.11 L187.22 499.87 L187.98 499.64 L188.75 499.40 L189.51 499.16 L190.27 498.92 L191.04 498.67 L191.80 498.42 L192.56 498.17 L193.32 497.92 L194.09 497.66 L194.85 497.40 L195.61 497.13 L196.38 496.86 L197.14 496.59 L197.90 496.32 L198.66 496.04 L199.43 495.76 L200.19 495.47 L200.95 495.18 L201.71 494.89 L202.48 494.59 L203.24 494.29 L204.00 493.99 L204.77 493.68 L205.53 493.37 L206.29 493.05 L207.05 492.73 L207.82 492.41 L208.58 492.08 L209.34 491.75 L210.10 491.41 L210.87 491.07 L211.63 490.73 L212.39 490.38 L213.16 490.02 L213.92 489.66 L214.68 489.30 L215.44 488.93 L216.21 488.56 L216.97 488.18 L217.73 487.80 L218.50 487.41 L219.26 487.01 L220.02 486.61 L220.78 486.21 L221.55 485.80 L222.31 485.38 L223.07 484.96 L223.83 484.54 L224.60 484.10 L225.36 483.67 L226.12 483.22 L226.89 482.77 L227.65 482.31 L228.41 481.85 L229.17 481.38 L229.94 480.90 L230.70 480.42 L231.46 479.93 L232.22 479.44 L232.99 478.93 L233.75 478.42 L234.51 477.90 L235.28 477.38 L236.04 476.85 L236.80 476.31 L237.56 475.76 L238.33 475.20 L239.09 474.64 L239.85 474.07 L240.62 473.49 L241.38 472.90 L242.14 472.30 L242.90 471.70 L243.67 471.08 L244.43 470.46 L245.19 469.83 L245.95 469.18 L246.72 468.53 L247.48 467.87 L248.24 467.20 L249.01 466.52 L249.77 465.83 L250.53 465.13 L251.29 464.41 L252.06 463.69 L252.82 462.96 L253.58 462.21 L254.34 461.45 L255.11 460.69 L255.87 459.91 L256.63 459.11 L257.40 458.31 L258.16 457.49 L258.92 456.66 L259.68 455.82 L260.45 454.97 L261.21 454.10 L261.97 453.21 L262.74 452.32 L263.50 451.41 L264.26 450.48 L265.02 449.54 L265.79 448.59 L266.55 447.62 L267.31 446.63 L268.07 445.63 L268.84 444.61 L269.60 443.58 L270.36 442.52 L271.13 441.46 L271.89 440.37 L272.65 439.26 L273.41 438.14 L274.18 437.00 L274.94 435.84 L275.70 434.66 L276.46 433.46 L277.23 432.24 L277.99 431.00 L278.75 429.74 L279.52 428.46 L280.28 427.16 L281.04 425.83 L281.80 424.48 L282.57 423.11 L283.33 421.72 L284.09 420.30 L284.85 418.85 L285.62 417.38 L286.38 415.89 L287.14 414.36 L287.91 412.82 L288.67 411.24 L289.43 409.64 L290.19 408.00 L290.96 406.34 L291.72 404.65 L292.48 402.93 L293.25 401.18 L294.01 399.39 L294.77 397.57 L295.53 395.72 L296.30 393.84 L297.06 391.92 L297.82 389.96 L298.58 387.97 L299.35 385.95 L300.11 383.88 L300.87 381.78 L301.64 379.63 L302.40 377.45 L303.16 375.22 L303.92 372.95 L304.69 370.64 L305.45 368.29 L306.21 365.88 L306.97 363.44 L307.74 360.94 L308.50 358.40 L309.26 355.80 L310.03 353.16 L310.79 350.46 L311.55 347.71 L312.31 344.91 L313.08 342.05 L313.84 339.13 L314.60 336.15 L315.37 333.12 L316.13 330.02 L316.89 326.86 L317.65 323.63 L318.42 320.34 L319.18 316.98 L319.94 313.55 L320.70 310.05 L321.47 306.48 L322.23 302.83 L322.99 299.10 L323.76 295.30 L324.52 291.42 L325.28 287.45 L326.04 283.40 L326.81 279.26 L327.57 275.03 L328.33 270.71 L329.09 266.29 L329.86 261.78 L330.62 257.17 L331.38 252.46 L332.15 247.65 L332.91 242.72 L333.67 237.69 L334.43 232.55 L335.20 227.28 L335.96 221.90 L336.72 216.40 L337.49 210.77 L338.25 205.01 L339.01 199.12 L339.77 193.09 L340.54 186.92 L341.30 180.61 L342.06 174.15 L342.82 167.54 L343.59 160.77 L344.35 153.83 L345.11 146.74 L345.88 139.47 L346.64 132.02 L347.40 124.40 L348.16 116.58 L348.93 108.58 L349.69 100.38 L350.45 91.97 L351.21 83.36 L351.98 74.53 L352.74 65.48 L353.46 65.48 L354.22 74.53 L354.98 83.35 L355.75 91.96 L356.51 100.36 L357.27 108.56 L358.03 116.56 L358.80 124.37 L359.56 132.00 L360.32 139.44 L361.08 146.70 L361.85 153.80 L362.61 160.73 L363.37 167.50 L364.13 174.11 L364.90 180.57 L365.66 186.88 L366.42 193.05 L367.18 199.07 L367.95 204.96 L368.71 210.72 L369.47 216.35 L370.23 221.85 L371.00 227.23 L371.76 232.49 L372.52 237.64 L373.28 242.67 L374.04 247.59 L374.81 252.40 L375.57 257.11 L376.33 261.72 L377.09 266.23 L377.86 270.65 L378.62 274.97 L379.38 279.19 L380.14 283.33 L380.91 287.38 L381.67 291.35 L382.43 295.23 L383.19 299.04 L383.96 302.76 L384.72 306.41 L385.48 309.98 L386.24 313.48 L387.01 316.91 L387.77 320.27 L388.53 323.57 L389.29 326.79 L390.06 329.95 L390.82 333.05 L391.58 336.09 L392.34 339.06 L393.11 341.98 L393.87 344.84 L394.63 347.65 L395.39 350.40 L396.16 353.09 L396.92 355.74 L397.68 358.33 L398.44 360.88 L399.20 363.37 L399.97 365.82 L400.73 368.22 L401.49 370.58 L402.25 372.89 L403.02 375.16 L403.78 377.38 L404.54 379.57 L405.30 381.71 L406.07 383.82 L406.83 385.88 L407.59 387.91 L408.35 389.90 L409.12 391.86 L409.88 393.78 L410.64 395.66 L411.40 397.51 L412.17 399.33 L412.93 401.11 L413.69 402.87 L414.45 404.59 L415.22 406.28 L415.98 407.94 L416.74 409.58 L417.50 411.18 L418.27 412.76 L419.03 414.31 L419.79 415.83 L420.55 417.32 L421.32 418.79 L422.08 420.24 L422.84 421.66 L423.60 423.06 L424.36 424.43 L425.13 425.78 L425.89 427.10 L426.65 428.41 L427.41 429.69 L428.18 430.95 L428.94 432.19 L429.70 433.41 L430.46 434.61 L431.23 435.79 L431.99 436.95 L432.75 438.09 L433.51 439.21 L434.28 440.32 L435.04 441.40 L435.80 442.47 L436.56 443.53 L437.33 444.56 L438.09 445.58 L438.85 446.58 L439.61 447.57 L440.38 448.54 L441.14 449.49 L441.90 450.43 L442.66 451.36 L443.43 452.27 L444.19 453.17 L444.95 454.05 L445.71 454.92 L446.47 455.77 L447.24 456.62 L448.00 457.45 L448.76 458.26 L449.52 459.07 L450.29 459.86 L451.05 460.64 L451.81 461.41 L452.57 462.17 L453.34 462.91 L454.10 463.65 L454.86 464.37 L455.62 465.08 L456.39 465.79 L457.15 466.48 L457.91 467.16 L458.67 467.83 L459.44 468.49 L460.20 469.14 L460.96 469.79 L461.72 470.42 L462.49 471.04 L463.25 471.66 L464.01 472.26 L464.77 472.86 L465.54 473.45 L466.30 474.03 L467.06 474.60 L467.82 475.17 L468.59 475.72 L469.35 476.27 L470.11 476.81 L470.87 477.34 L471.63 477.87 L472.40 478.39 L473.16 478.90 L473.92 479.40 L474.68 479.90 L475.45 480.39 L476.21 480.87 L476.97 481.35 L477.73 481.82 L478.50 482.28 L479.26 482.74 L480.02 483.19 L480.78 483.63 L481.55 484.07 L482.31 484.50 L483.07 484.93 L483.83 485.35 L484.60 485.77 L485.36 486.18 L486.12 486.58 L486.88 486.98 L487.65 487.38 L488.41 487.77 L489.17 488.15 L489.93 488.53 L490.70 488.90 L491.46 489.27 L492.22 489.64 L492.98 489.99 L493.75 490.35 L494.51 490.70 L495.27 491.04 L496.03 491.39 L496.79 491.72 L497.56 492.05 L498.32 492.38 L499.08 492.71 L499.84 493.03 L500.61 493.34 L501.37 493.65 L502.13 493.96 L502.89 494.27 L503.66 494.57 L504.42 494.86 L505.18 495.16 L505.94 495.45 L506.71 495.73 L507.47 496.01 L508.23 496.29 L508.99 496.57 L509.76 496.84 L510.52 497.11 L511.28 497.37 L512.04 497.63 L512.81 497.89 L513.57 498.15 L514.33 498.40 L515.09 498.65 L515.86 498.90 L516.62 499.14 L517.38 499.38 L518.14 499.62 L518.91 499.85 L519.67 500.08 L520.43 500.31 L521.19 500.54 L521.95 500.76 L522.72 500.99 L523.48 501.20 L524.24 501.42 L525.00 501.63 L525.77 501.84 L526.53 502.05 L527.29 502.26 L528.05 502.46 L528.82 502.66 L529.58 502.86 L530.34 503.06 L531.10 503.25 L531.87 503.45 L532.63 503.64 L533.39 503.82 L534.15 504.01 L534.92 504.19 L535.68 504.38 L536.44 504.55 L537.20 504.73 L537.97 504.91 L538.73 505.08 L539.49 505.25 L540.25 505.42 L541.02 505.59 L541.78 505.76 L542.54 505.92 L543.30 506.08 L544.06 506.24 L544.83 506.40 L545.59 506.56 L546.35 506.71 L547.11 506.87 L547.88 507.02 L548.64 507.17 L549.40 507.32 L550.16 507.46 L550.93 507.61 L551.69 507.75 L552.45 507.90 L553.21 508.04 L553.98 508.17 L554.74 508.31 L555.50 508.45 L556.26 508.58 L557.03 508.72 L557.79 508.85 L558.55 508.98 L559.31 509.11 L560.08 509.24 L560.84 509.36 L561.60 509.49 L562.36 509.61 L563.13 509.73 L563.89 509.85 L564.65 509.97 L565.41 510.09 L566.18 510.21 L566.94 510.33 L567.70 510.44 L568.46 510.55 L569.22 510.67 L569.99 510.78 L570.75 510.89 L571.51 511.00 L572.27 511.11 L573.04 511.21 L573.80 511.32 L574.56 511.42 L575.32 511.53 L576.09 511.63 L576.85 511.73 L577.61 511.83 L578.37 511.93 L579.14 512.03 L579.90 512.13 L580.66 512.22 L581.42 512.32 L582.19 512.42 L582.95 512.51 L583.71 512.60 L584.47 512.69 L585.24 512.78 L586.00 512.87 L586.76 512.96 L587.52 513.05 L588.29 513.14 L589.05 513.23 L589.81 513.31 L590.57 513.40 L591.34 513.48 L592.10 513.56 L592.86 513.65 L593.62 513.73 L594.38 513.81 L595.15 513.89 L595.91 513.97 L596.67 514.05 L597.43 514.13 L598.20 514.20 L598.96 514.28 L599.72 514.35 L600.48 514.43 L601.25 514.50 L602.01 514.58 L602.77 514.65 L603.53 514.72 L604.30 514.79 L605.06 514.86 L605.82 514.93 L606.58 515.00 L607.35 515.07 L608.11 515.14 L608.87 515.21 L609.63 515.27 L610.40 515.34 L611.16 515.41 L611.92 515.47 L612.68 515.54 L613.45 515.60 L614.21 515.66 L614.97 515.73 L615.73 515.79 L616.49 515.85 L617.26 515.91 L618.02 515.97 L618.78 516.03 L619.54 516.09 L620.31 516.15 L621.07 516.21 L621.83 516.27 L622.59 516.32 L623.36 516.38 L624.12 516.44 L624.88 516.49 L625.64 516.55 L626.41 516.60 L627.17 516.65 L627.93 516.71 L628.69 516.76 L629.46 516.81 L630.22 516.87 L630.98 516.92 L631.74 516.97 L632.51 517.02 L633.27 517.07 L634.03 517.12 L634.79 517.17 L635.56 517.22 L636.32 517.27 L637.08 517.32 L637.84 517.37 L638.61 517.41 L639.37 517.46 L640.13 517.51 L640.89 517.55 L641.65 517.60 L642.42 517.64 L643.18 517.69 L643.94 517.73 L644.70 517.78 L645.47 517.82 L646.23 517.87 L646.99 517.91 L647.75 517.95 L648.52 517.99 L649.28 518.04 L650.04 518.08 L650.80 518.12 L651.57 518.16 L652.33 518.20 L653.09 518.24 L653.85 518.28 L654.62 518.32 L655.38 518.36 L656.14 518.40 L656.90 518.44 L657.67 518.48 L658.43 518.51 L659.19 518.55 L659.95 518.59 L660.72 518.63 L661.48 518.66 L662.24 518.70 L663.00 518.74 L663.77 518.77 L664.53 518.81 L665.29 518.84 L666.05 518.88 L666.81 518.91 L667.58 518.95 L668.34 518.98 L669.10 519.02 L669.86 519.05 L670.63 519.08 L671.39 519.12 L672.15 519.15 L672.91 519.18 L673.68 519.21 L674.44 519.25 L675.20 519.28 L675.96 519.31 L676.73 519.34 L677.49 519.37 L678.25 519.40 L679.01 519.43 L679.78 519.46 L680.54 519.49 L681.30 519.52 L682.06 519.55 L682.83 519.58 L683.59 519.61 L684.35 519.64 L685.11 519.67 L685.88 519.70 L686.64 519.72 L687.40 519.75 L688.16 519.78 L688.92 519.81 L689.69 519.83 L690.45 519.86 L691.21 519.89 L691.97 519.92 L692.74 519.94 L693.50 519.97 L694.26 519.99 L695.02 520.02 L695.79 520.05 L696.55 520.07 L697.31 520.10 L698.07 520.12 L698.84 520.15 L699.60 520.17 L700.36 520.20 L701.12 520.22 L701.89 520.24 L702.65 520.27 L703.41 520.29 L704.17 520.32 L704.94 520.34 L705.70 520.36 L706.46 520.39 L707.22 520.41 L707.99 520.43 L708.75 520.45 L709.51 520.48 L710.27 520.50 L711.04 520.52 L711.80 520.54 L712.56 520.56 L713.32 520.59 L714.08 520.61 L714.85 520.63 L715.61 520.65 L716.37 520.67 L717.13 520.69 L717.90 520.71 L718.66 520.73 L719.42 520.75 L720.18 520.77 L720.95 520.79 L721.71 520.81 L722.47 520.83 L723.23 520.85 L724.00 520.87 L724.76 520.89 L725.52 520.91 L726.28 520.93 L727.05 520.95 L727.81 520.97 L728.57 520.99 L729.33 521.00 L730.10 521.02 L730.86 521.04 L731.62 521.06 L732.38 521.08 L733.15 521.09 L733.91 521.11 L734.67 521.13 L735.43 521.15 L736.20 521.17 L736.96 521.18 L737.72 521.20 L738.48 521.22 L739.24 521.23 L740.01 521.25 L740.77 521.27 L741.53 521.28 L742.29 521.30 L743.06 521.32 L743.82 521.33 L744.58 521.35 L745.34 521.36 L746.11 521.38 L746.87 521.40 L747.63 521.41 L748.39 521.43 L749.16 521.44 L749.92 521.46 L750.68 521.47 L751.44 521.49 L752.21 521.50 L752.97 521.52 L753.73 521.53 L754.49 521.55 L755.26 521.56 L756.02 521.58 L756.78 521.59 L757.54 521.60 L758.31 521.62 L759.07 521.63 L759.83 521.65 L760.59 521.66 L761.36 521.67 L762.12 521.69 L762.88 521.70 L763.64 521.72 L764.40 521.73 L765.17 521.74 L765.93 521.76 L766.69 521.77 L767.45 521.78 L768.22 521.79 L768.98 521.81 L769.74 521.82 L770.50 521.83 L771.27 521.85 L772.03 521.86 L772.79 521.87 L773.55 521.88 L774.32 521.89 L775.08 521.91 L775.84 521.92 L776.60 521.93 L777.37 521.94 L778.13 521.96 L778.89 521.97 L779.65 521.98 L780.42 521.99 L781.18 522.00 L781.94 522.01 L782.70 522.02 L783.47 522.04 L784.23 522.05 L784.99 522.06 L785.75 522.07 L786.51 522.08 L787.28 522.09 L788.04 522.10 L788.80 522.11 L789.56 522.12 L790.33 522.14 L791.09 522.15 L791.85 522.16 L792.61 522.17 L793.38 522.18 L794.14 522.19 L794.90 522.20 L795.66 522.21 L796.43 522.22 L797.19 522.23 L797.95 522.24 L798.71 522.25 L799.48 522.26 L800.24 522.27 L801.00 522.28 L801.76 522.29 L802.53 522.30 L803.29 522.31 L804.05 522.32 L804.81 522.33 L805.58 522.34 L806.34 522.35 L807.10 522.35 L807.86 522.36 L808.63 522.37 L809.39 522.38 L810.15 522.39" fill="none" stroke="#8778B3" stroke-width="3.8" stroke-linejoin="miter" stroke-linecap="square" stroke-miterlimit="3.25"/>
</g>
<g>
<line x1="1" y1="524.20" x2="827" y2="524.20" stroke="#5a5a5a" stroke-opacity="0.34" stroke-width="1.7"/>
<line x1="353.10" y1="37.5" x2="353.10" y2="549.3" stroke="#5a5a5a" stroke-opacity="0.33" stroke-width="1.7"/>
<line x1="353.10" y1="523.40" x2="353.10" y2="515.00" stroke="#5a5a5a" stroke-opacity="0.22" stroke-width="1.5"/>
<line x1="353.90" y1="524.20" x2="362.30" y2="524.20" stroke="#5a5a5a" stroke-opacity="0.22" stroke-width="1.5"/>
</g>
<g stroke="#666" stroke-opacity="0.68" stroke-width="1">
<line x1="17.50" y1="524.20" x2="17.50" y2="518.60"/>
<line x1="48.50" y1="524.20" x2="48.50" y2="515.00"/>
<line x1="78.50" y1="524.20" x2="78.50" y2="518.60"/>
<line x1="109.50" y1="524.20" x2="109.50" y2="518.60"/>
<line x1="139.50" y1="524.20" x2="139.50" y2="518.60"/>
<line x1="170.50" y1="524.20" x2="170.50" y2="518.60"/>
<line x1="200.50" y1="524.20" x2="200.50" y2="515.00"/>
<line x1="231.50" y1="524.20" x2="231.50" y2="518.60"/>
<line x1="261.50" y1="524.20" x2="261.50" y2="518.60"/>
<line x1="292.50" y1="524.20" x2="292.50" y2="518.60"/>
<line x1="322.50" y1="524.20" x2="322.50" y2="518.60"/>
<line x1="383.50" y1="524.20" x2="383.50" y2="518.60"/>
<line x1="414.50" y1="524.20" x2="414.50" y2="518.60"/>
<line x1="444.50" y1="524.20" x2="444.50" y2="518.60"/>
<line x1="474.50" y1="524.20" x2="474.50" y2="518.60"/>
<line x1="505.50" y1="524.20" x2="505.50" y2="515.00"/>
<line x1="535.50" y1="524.20" x2="535.50" y2="518.60"/>
<line x1="566.50" y1="524.20" x2="566.50" y2="518.60"/>
<line x1="596.50" y1="524.20" x2="596.50" y2="518.60"/>
<line x1="627.50" y1="524.20" x2="627.50" y2="518.60"/>
<line x1="657.50" y1="524.20" x2="657.50" y2="515.00"/>
<line x1="688.50" y1="524.20" x2="688.50" y2="518.60"/>
<line x1="718.50" y1="524.20" x2="718.50" y2="518.60"/>
<line x1="749.50" y1="524.20" x2="749.50" y2="518.60"/>
<line x1="779.50" y1="524.20" x2="779.50" y2="518.60"/>
<line x1="810.50" y1="524.20" x2="810.50" y2="515.00"/>
<line x1="353.10" y1="493.50" x2="358.70" y2="493.50"/>
<line x1="353.10" y1="463.50" x2="358.70" y2="463.50"/>
<line x1="353.10" y1="433.50" x2="358.70" y2="433.50"/>
<line x1="353.10" y1="402.50" x2="358.70" y2="402.50"/>
<line x1="353.10" y1="372.50" x2="362.30" y2="372.50"/>
<line x1="353.10" y1="341.50" x2="358.70" y2="341.50"/>
<line x1="353.10" y1="311.50" x2="358.70" y2="311.50"/>
<line x1="353.10" y1="281.50" x2="358.70" y2="281.50"/>
<line x1="353.10" y1="250.50" x2="358.70" y2="250.50"/>
<line x1="353.10" y1="220.50" x2="362.30" y2="220.50"/>
<line x1="353.10" y1="189.50" x2="358.70" y2="189.50"/>
<line x1="353.10" y1="159.50" x2="358.70" y2="159.50"/>
<line x1="353.10" y1="129.50" x2="358.70" y2="129.50"/>
<line x1="353.10" y1="98.50" x2="358.70" y2="98.50"/>
<line x1="353.10" y1="68.50" x2="362.30" y2="68.50"/>
<line x1="353.10" y1="37.7" x2="358.70" y2="37.7"/>
</g>
<g fill="#666" stroke="#666" stroke-width="0.25" font-size="24.0" style="filter:grayscale(1)">
<text x="33.9" y="553.7">−</text><text x="47.6" y="551.8">2</text>
<text x="185.8" y="553.7">−</text><text x="201.80" y="551.80" clip-path="url(#c1)">1</text>
<text x="500.75" y="551.80" clip-path="url(#c2)">1</text>
<text x="650.90" y="551.8">2</text>
<text x="803.75" y="551.8">3</text>
<text x="345.7" y="377.80" text-anchor="end" letter-spacing="-0.45">0.5</text>
<text x="345.7" y="225.80" text-anchor="end" letter-spacing="-0.45">.0</text>
<text x="314.20" y="225.80" clip-path="url(#c3)">1</text>
<text x="345.7" y="73.80" text-anchor="end" letter-spacing="-0.45">.5</text>
<text x="314.20" y="73.80" clip-path="url(#c4)">1</text>
</g>
<text x="326.8" y="24.6" fill="#666" stroke="#666" stroke-width="0.25" font-size="27.5" style="filter:grayscale(1)">Perturbating <tspan font-style="italic">α</tspan></text>
<g>
<line x1="376.8" y1="163.00" x2="421.2" y2="163.00" stroke="#5E81B5" stroke-width="3.8"/>
<line x1="376.8" y1="218.50" x2="421.2" y2="218.50" stroke="#E19C24" stroke-width="3.8"/>
<line x1="376.8" y1="278.60" x2="421.2" y2="278.60" stroke="#8FB032" stroke-width="3.8"/>
<line x1="376.8" y1="334.00" x2="421.2" y2="334.00" stroke="#EB6235" stroke-width="3.8"/>
<line x1="376.8" y1="393.90" x2="421.2" y2="393.90" stroke="#8778B3" stroke-width="3.8"/>
</g>
<g fill="#000" stroke="#000" stroke-width="0.3" style="filter:grayscale(1)">
<text x="434.80" y="173.80" clip-path="url(#c5)" font-size="23.6">1</text>
<text x="434.0" y="289.1" font-size="23.6">2</text>
<text x="434.5" y="404.7" font-size="23.6">3</text>
<text x="438.2" y="214.80" font-size="20.5">3</text>
<text x="438.0" y="249.60" font-size="20.5">2</text>
<line x1="439.0" y1="222.00" x2="450.8" y2="222.00" stroke="#000" stroke-width="1.8"/>
<text x="438.2" y="330.10" font-size="20.5">5</text>
<text x="438.0" y="365.20" font-size="20.5">2</text>
<line x1="439.0" y1="337.70" x2="450.8" y2="337.70" stroke="#000" stroke-width="1.8"/>
</g>
</svg>
</body></html>
